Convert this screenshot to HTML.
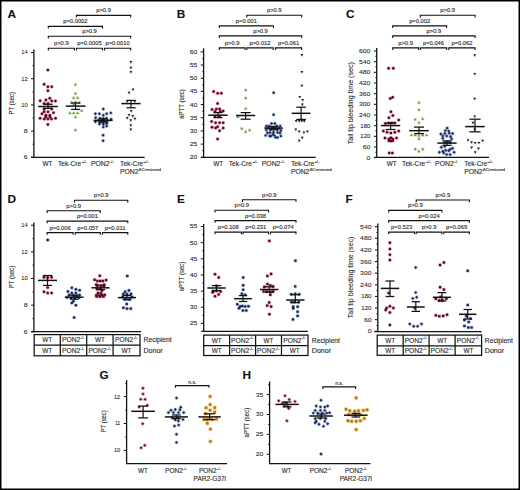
<!DOCTYPE html>
<html><head><meta charset="utf-8"><style>
html,body{margin:0;padding:0;background:#fff;}
body{width:520px;height:490px;overflow:hidden;}
svg{display:block;font-family:"Liberation Sans", sans-serif;}
text{stroke:#2a2a2a;stroke-width:0.12px;}
text.lt{stroke:#2e2e2e;stroke-width:0.1px;fill:#2e2e2e;}
</style></head><body>
<svg width="520" height="490" viewBox="0 0 520 490">
<rect x="0" y="0" width="520" height="490" fill="#fff"/>
<rect x="0" y="0" width="520" height="1.5" fill="#000"/>
<rect x="0" y="0" width="1.5" height="490" fill="#000"/>
<rect x="518.5" y="0" width="1.5" height="490" fill="#000"/>
<rect x="0" y="488.5" width="520" height="1.5" fill="#000"/>
<circle cx="47.90" cy="69.90" r="2.0" fill="rgba(215,30,80,0.38)"/>
<circle cx="44.10" cy="84.20" r="2.0" fill="rgba(215,30,80,0.38)"/>
<circle cx="47.90" cy="86.80" r="2.0" fill="rgba(215,30,80,0.38)"/>
<circle cx="51.80" cy="86.80" r="2.0" fill="rgba(215,30,80,0.38)"/>
<circle cx="47.90" cy="90.80" r="2.0" fill="rgba(215,30,80,0.38)"/>
<circle cx="49.80" cy="98.30" r="2.0" fill="rgba(215,30,80,0.38)"/>
<circle cx="45.90" cy="99.90" r="2.0" fill="rgba(215,30,80,0.38)"/>
<circle cx="40.20" cy="100.80" r="2.0" fill="rgba(215,30,80,0.38)"/>
<circle cx="51.70" cy="101.10" r="2.0" fill="rgba(215,30,80,0.38)"/>
<circle cx="55.40" cy="101.10" r="2.0" fill="rgba(215,30,80,0.38)"/>
<circle cx="44.10" cy="103.60" r="2.0" fill="rgba(215,30,80,0.38)"/>
<circle cx="48.00" cy="103.60" r="2.0" fill="rgba(215,30,80,0.38)"/>
<circle cx="51.70" cy="108.90" r="2.0" fill="rgba(215,30,80,0.38)"/>
<circle cx="44.10" cy="108.90" r="2.0" fill="rgba(215,30,80,0.38)"/>
<circle cx="44.10" cy="111.70" r="2.0" fill="rgba(215,30,80,0.38)"/>
<circle cx="48.00" cy="111.70" r="2.0" fill="rgba(215,30,80,0.38)"/>
<circle cx="53.50" cy="112.80" r="2.0" fill="rgba(215,30,80,0.38)"/>
<circle cx="42.00" cy="113.80" r="2.0" fill="rgba(215,30,80,0.38)"/>
<circle cx="45.90" cy="115.20" r="2.0" fill="rgba(215,30,80,0.38)"/>
<circle cx="49.80" cy="115.20" r="2.0" fill="rgba(215,30,80,0.38)"/>
<circle cx="45.80" cy="117.00" r="2.0" fill="rgba(215,30,80,0.38)"/>
<circle cx="50.00" cy="117.00" r="2.0" fill="rgba(215,30,80,0.38)"/>
<circle cx="40.10" cy="118.30" r="2.0" fill="rgba(215,30,80,0.38)"/>
<circle cx="44.20" cy="119.10" r="2.0" fill="rgba(215,30,80,0.38)"/>
<circle cx="47.90" cy="119.10" r="2.0" fill="rgba(215,30,80,0.38)"/>
<circle cx="51.50" cy="119.10" r="2.0" fill="rgba(215,30,80,0.38)"/>
<circle cx="55.50" cy="118.30" r="2.0" fill="rgba(215,30,80,0.38)"/>
<circle cx="47.90" cy="124.40" r="2.0" fill="rgba(215,30,80,0.38)"/>
<circle cx="75.50" cy="84.50" r="1.9" fill="rgba(140,190,80,0.38)"/>
<circle cx="75.50" cy="93.50" r="1.9" fill="rgba(140,190,80,0.38)"/>
<circle cx="73.60" cy="97.80" r="1.9" fill="rgba(140,190,80,0.38)"/>
<circle cx="77.70" cy="97.80" r="1.9" fill="rgba(140,190,80,0.38)"/>
<circle cx="71.60" cy="102.50" r="1.9" fill="rgba(140,190,80,0.38)"/>
<circle cx="75.50" cy="101.90" r="1.9" fill="rgba(140,190,80,0.38)"/>
<circle cx="79.40" cy="102.50" r="1.9" fill="rgba(140,190,80,0.38)"/>
<circle cx="73.80" cy="104.20" r="1.9" fill="rgba(140,190,80,0.38)"/>
<circle cx="81.70" cy="110.60" r="1.9" fill="rgba(140,190,80,0.38)"/>
<circle cx="69.90" cy="113.10" r="1.9" fill="rgba(140,190,80,0.38)"/>
<circle cx="73.60" cy="113.10" r="1.9" fill="rgba(140,190,80,0.38)"/>
<circle cx="77.70" cy="113.10" r="1.9" fill="rgba(140,190,80,0.38)"/>
<circle cx="75.50" cy="117.10" r="1.9" fill="rgba(140,190,80,0.38)"/>
<circle cx="75.50" cy="130.00" r="1.9" fill="rgba(140,190,80,0.38)"/>
<circle cx="103.30" cy="109.00" r="2.0" fill="rgba(50,90,175,0.32)"/>
<circle cx="95.40" cy="113.80" r="2.0" fill="rgba(50,90,175,0.32)"/>
<circle cx="99.40" cy="113.80" r="2.0" fill="rgba(50,90,175,0.32)"/>
<circle cx="106.70" cy="113.80" r="2.0" fill="rgba(50,90,175,0.32)"/>
<circle cx="110.90" cy="112.90" r="2.0" fill="rgba(50,90,175,0.32)"/>
<circle cx="103.30" cy="115.30" r="2.0" fill="rgba(50,90,175,0.32)"/>
<circle cx="95.70" cy="117.80" r="2.0" fill="rgba(50,90,175,0.32)"/>
<circle cx="100.00" cy="118.30" r="2.0" fill="rgba(50,90,175,0.32)"/>
<circle cx="103.30" cy="118.50" r="2.0" fill="rgba(50,90,175,0.32)"/>
<circle cx="106.50" cy="118.30" r="2.0" fill="rgba(50,90,175,0.32)"/>
<circle cx="98.50" cy="120.50" r="2.0" fill="rgba(50,90,175,0.32)"/>
<circle cx="101.50" cy="120.50" r="2.0" fill="rgba(50,90,175,0.32)"/>
<circle cx="104.50" cy="120.50" r="2.0" fill="rgba(50,90,175,0.32)"/>
<circle cx="107.50" cy="120.50" r="2.0" fill="rgba(50,90,175,0.32)"/>
<circle cx="95.40" cy="121.70" r="2.0" fill="rgba(50,90,175,0.32)"/>
<circle cx="111.10" cy="119.20" r="2.0" fill="rgba(50,90,175,0.32)"/>
<circle cx="100.00" cy="122.50" r="2.0" fill="rgba(50,90,175,0.32)"/>
<circle cx="103.30" cy="122.50" r="2.0" fill="rgba(50,90,175,0.32)"/>
<circle cx="106.50" cy="122.50" r="2.0" fill="rgba(50,90,175,0.32)"/>
<circle cx="99.40" cy="124.10" r="2.0" fill="rgba(50,90,175,0.32)"/>
<circle cx="103.30" cy="124.20" r="2.0" fill="rgba(50,90,175,0.32)"/>
<circle cx="106.70" cy="123.50" r="2.0" fill="rgba(50,90,175,0.32)"/>
<circle cx="103.30" cy="127.10" r="2.0" fill="rgba(50,90,175,0.32)"/>
<circle cx="106.70" cy="126.10" r="2.0" fill="rgba(50,90,175,0.32)"/>
<circle cx="103.10" cy="135.20" r="2.0" fill="rgba(50,90,175,0.32)"/>
<circle cx="103.10" cy="140.70" r="2.0" fill="rgba(50,90,175,0.32)"/>
<circle cx="130.90" cy="62.10" r="1.8" fill="rgba(120,120,120,0.15)"/>
<circle cx="130.90" cy="67.90" r="1.8" fill="rgba(120,120,120,0.15)"/>
<circle cx="130.90" cy="72.10" r="1.8" fill="rgba(120,120,120,0.15)"/>
<circle cx="133.00" cy="89.70" r="1.8" fill="rgba(120,120,120,0.15)"/>
<circle cx="129.10" cy="92.90" r="1.8" fill="rgba(120,120,120,0.15)"/>
<circle cx="127.20" cy="101.50" r="1.8" fill="rgba(120,120,120,0.15)"/>
<circle cx="134.90" cy="101.50" r="1.8" fill="rgba(120,120,120,0.15)"/>
<circle cx="131.10" cy="111.20" r="1.8" fill="rgba(120,120,120,0.15)"/>
<circle cx="129.10" cy="115.10" r="1.8" fill="rgba(120,120,120,0.15)"/>
<circle cx="132.80" cy="116.10" r="1.8" fill="rgba(120,120,120,0.15)"/>
<circle cx="127.20" cy="118.20" r="1.8" fill="rgba(120,120,120,0.15)"/>
<circle cx="134.90" cy="118.90" r="1.8" fill="rgba(120,120,120,0.15)"/>
<circle cx="130.80" cy="120.40" r="1.8" fill="rgba(120,120,120,0.15)"/>
<circle cx="130.80" cy="125.30" r="1.8" fill="rgba(120,120,120,0.15)"/>
<circle cx="130.80" cy="129.60" r="1.8" fill="rgba(120,120,120,0.15)"/>
<circle cx="213.60" cy="91.60" r="2.0" fill="rgba(215,30,80,0.38)"/>
<circle cx="217.60" cy="93.20" r="2.0" fill="rgba(215,30,80,0.38)"/>
<circle cx="221.30" cy="93.20" r="2.0" fill="rgba(215,30,80,0.38)"/>
<circle cx="217.60" cy="103.60" r="2.0" fill="rgba(215,30,80,0.38)"/>
<circle cx="212.00" cy="109.50" r="2.0" fill="rgba(215,30,80,0.38)"/>
<circle cx="216.30" cy="108.90" r="2.0" fill="rgba(215,30,80,0.38)"/>
<circle cx="219.60" cy="108.90" r="2.0" fill="rgba(215,30,80,0.38)"/>
<circle cx="223.20" cy="110.90" r="2.0" fill="rgba(215,30,80,0.38)"/>
<circle cx="215.00" cy="111.50" r="2.0" fill="rgba(215,30,80,0.38)"/>
<circle cx="220.30" cy="111.50" r="2.0" fill="rgba(215,30,80,0.38)"/>
<circle cx="215.00" cy="116.80" r="2.0" fill="rgba(215,30,80,0.38)"/>
<circle cx="219.60" cy="116.80" r="2.0" fill="rgba(215,30,80,0.38)"/>
<circle cx="211.60" cy="121.50" r="2.0" fill="rgba(215,30,80,0.38)"/>
<circle cx="215.60" cy="122.80" r="2.0" fill="rgba(215,30,80,0.38)"/>
<circle cx="219.60" cy="122.80" r="2.0" fill="rgba(215,30,80,0.38)"/>
<circle cx="223.20" cy="122.80" r="2.0" fill="rgba(215,30,80,0.38)"/>
<circle cx="212.00" cy="127.20" r="2.0" fill="rgba(215,30,80,0.38)"/>
<circle cx="215.60" cy="128.10" r="2.0" fill="rgba(215,30,80,0.38)"/>
<circle cx="217.60" cy="126.80" r="2.0" fill="rgba(215,30,80,0.38)"/>
<circle cx="219.60" cy="130.80" r="2.0" fill="rgba(215,30,80,0.38)"/>
<circle cx="223.20" cy="128.10" r="2.0" fill="rgba(215,30,80,0.38)"/>
<circle cx="217.60" cy="139.10" r="2.0" fill="rgba(215,30,80,0.38)"/>
<circle cx="245.70" cy="90.00" r="1.9" fill="rgba(140,190,80,0.38)"/>
<circle cx="245.70" cy="98.00" r="1.9" fill="rgba(140,190,80,0.38)"/>
<circle cx="245.70" cy="108.60" r="1.9" fill="rgba(140,190,80,0.38)"/>
<circle cx="238.00" cy="116.80" r="1.9" fill="rgba(140,190,80,0.38)"/>
<circle cx="241.70" cy="128.50" r="1.9" fill="rgba(140,190,80,0.38)"/>
<circle cx="245.70" cy="131.70" r="1.9" fill="rgba(140,190,80,0.38)"/>
<circle cx="249.60" cy="130.10" r="1.9" fill="rgba(140,190,80,0.38)"/>
<circle cx="273.60" cy="92.70" r="2.0" fill="rgba(50,90,175,0.32)"/>
<circle cx="273.60" cy="114.80" r="2.0" fill="rgba(50,90,175,0.32)"/>
<circle cx="271.60" cy="123.50" r="2.0" fill="rgba(50,90,175,0.32)"/>
<circle cx="274.90" cy="123.50" r="2.0" fill="rgba(50,90,175,0.32)"/>
<circle cx="266.30" cy="126.10" r="2.0" fill="rgba(50,90,175,0.32)"/>
<circle cx="269.00" cy="126.10" r="2.0" fill="rgba(50,90,175,0.32)"/>
<circle cx="276.90" cy="126.10" r="2.0" fill="rgba(50,90,175,0.32)"/>
<circle cx="280.20" cy="126.10" r="2.0" fill="rgba(50,90,175,0.32)"/>
<circle cx="266.30" cy="130.10" r="2.0" fill="rgba(50,90,175,0.32)"/>
<circle cx="280.90" cy="130.50" r="2.0" fill="rgba(50,90,175,0.32)"/>
<circle cx="270.50" cy="129.50" r="2.0" fill="rgba(50,90,175,0.32)"/>
<circle cx="277.50" cy="129.50" r="2.0" fill="rgba(50,90,175,0.32)"/>
<circle cx="265.60" cy="135.40" r="2.0" fill="rgba(50,90,175,0.32)"/>
<circle cx="269.60" cy="136.10" r="2.0" fill="rgba(50,90,175,0.32)"/>
<circle cx="272.90" cy="134.10" r="2.0" fill="rgba(50,90,175,0.32)"/>
<circle cx="274.30" cy="135.40" r="2.0" fill="rgba(50,90,175,0.32)"/>
<circle cx="277.60" cy="137.40" r="2.0" fill="rgba(50,90,175,0.32)"/>
<circle cx="280.90" cy="136.10" r="2.0" fill="rgba(50,90,175,0.32)"/>
<circle cx="271.00" cy="136.10" r="2.0" fill="rgba(50,90,175,0.32)"/>
<circle cx="275.60" cy="137.40" r="2.0" fill="rgba(50,90,175,0.32)"/>
<circle cx="268.00" cy="128.10" r="2.0" fill="rgba(50,90,175,0.32)"/>
<circle cx="272.00" cy="128.10" r="2.0" fill="rgba(50,90,175,0.32)"/>
<circle cx="275.50" cy="128.10" r="2.0" fill="rgba(50,90,175,0.32)"/>
<circle cx="279.00" cy="128.10" r="2.0" fill="rgba(50,90,175,0.32)"/>
<circle cx="270.00" cy="132.50" r="2.0" fill="rgba(50,90,175,0.32)"/>
<circle cx="273.60" cy="132.00" r="2.0" fill="rgba(50,90,175,0.32)"/>
<circle cx="277.50" cy="132.50" r="2.0" fill="rgba(50,90,175,0.32)"/>
<circle cx="267.50" cy="133.00" r="2.0" fill="rgba(50,90,175,0.32)"/>
<circle cx="280.00" cy="133.00" r="2.0" fill="rgba(50,90,175,0.32)"/>
<circle cx="301.90" cy="55.10" r="1.8" fill="rgba(120,120,120,0.15)"/>
<circle cx="301.90" cy="72.10" r="1.8" fill="rgba(120,120,120,0.15)"/>
<circle cx="301.90" cy="85.80" r="1.8" fill="rgba(120,120,120,0.15)"/>
<circle cx="299.80" cy="97.00" r="1.8" fill="rgba(120,120,120,0.15)"/>
<circle cx="302.70" cy="100.00" r="1.8" fill="rgba(120,120,120,0.15)"/>
<circle cx="302.30" cy="104.70" r="1.8" fill="rgba(120,120,120,0.15)"/>
<circle cx="296.20" cy="121.10" r="1.8" fill="rgba(120,120,120,0.15)"/>
<circle cx="299.20" cy="121.10" r="1.8" fill="rgba(120,120,120,0.15)"/>
<circle cx="301.90" cy="121.10" r="1.8" fill="rgba(120,120,120,0.15)"/>
<circle cx="304.30" cy="121.10" r="1.8" fill="rgba(120,120,120,0.15)"/>
<circle cx="295.80" cy="129.60" r="1.8" fill="rgba(120,120,120,0.15)"/>
<circle cx="299.20" cy="131.70" r="1.8" fill="rgba(120,120,120,0.15)"/>
<circle cx="303.90" cy="132.70" r="1.8" fill="rgba(120,120,120,0.15)"/>
<circle cx="307.40" cy="131.70" r="1.8" fill="rgba(120,120,120,0.15)"/>
<circle cx="302.30" cy="137.80" r="1.8" fill="rgba(120,120,120,0.15)"/>
<circle cx="299.20" cy="140.90" r="1.8" fill="rgba(120,120,120,0.15)"/>
<circle cx="388.60" cy="68.20" r="2.0" fill="rgba(215,30,80,0.38)"/>
<circle cx="393.30" cy="68.20" r="2.0" fill="rgba(215,30,80,0.38)"/>
<circle cx="390.20" cy="98.50" r="2.0" fill="rgba(215,30,80,0.38)"/>
<circle cx="392.70" cy="97.30" r="2.0" fill="rgba(215,30,80,0.38)"/>
<circle cx="390.90" cy="111.80" r="2.0" fill="rgba(215,30,80,0.38)"/>
<circle cx="392.80" cy="115.60" r="2.0" fill="rgba(215,30,80,0.38)"/>
<circle cx="388.90" cy="117.70" r="2.0" fill="rgba(215,30,80,0.38)"/>
<circle cx="398.70" cy="120.10" r="2.0" fill="rgba(215,30,80,0.38)"/>
<circle cx="385.30" cy="123.60" r="2.0" fill="rgba(215,30,80,0.38)"/>
<circle cx="388.90" cy="123.00" r="2.0" fill="rgba(215,30,80,0.38)"/>
<circle cx="391.80" cy="123.00" r="2.0" fill="rgba(215,30,80,0.38)"/>
<circle cx="394.80" cy="123.00" r="2.0" fill="rgba(215,30,80,0.38)"/>
<circle cx="383.30" cy="131.00" r="2.0" fill="rgba(215,30,80,0.38)"/>
<circle cx="387.10" cy="132.20" r="2.0" fill="rgba(215,30,80,0.38)"/>
<circle cx="390.90" cy="133.10" r="2.0" fill="rgba(215,30,80,0.38)"/>
<circle cx="394.80" cy="132.20" r="2.0" fill="rgba(215,30,80,0.38)"/>
<circle cx="398.70" cy="131.00" r="2.0" fill="rgba(215,30,80,0.38)"/>
<circle cx="385.00" cy="138.10" r="2.0" fill="rgba(215,30,80,0.38)"/>
<circle cx="388.90" cy="139.00" r="2.0" fill="rgba(215,30,80,0.38)"/>
<circle cx="390.90" cy="137.80" r="2.0" fill="rgba(215,30,80,0.38)"/>
<circle cx="392.80" cy="139.00" r="2.0" fill="rgba(215,30,80,0.38)"/>
<circle cx="396.50" cy="138.10" r="2.0" fill="rgba(215,30,80,0.38)"/>
<circle cx="388.90" cy="140.80" r="2.0" fill="rgba(215,30,80,0.38)"/>
<circle cx="392.80" cy="140.80" r="2.0" fill="rgba(215,30,80,0.38)"/>
<circle cx="390.90" cy="141.00" r="2.0" fill="rgba(215,30,80,0.38)"/>
<circle cx="389.20" cy="153.00" r="2.0" fill="rgba(215,30,80,0.38)"/>
<circle cx="392.40" cy="153.00" r="2.0" fill="rgba(215,30,80,0.38)"/>
<circle cx="418.90" cy="102.50" r="1.9" fill="rgba(140,190,80,0.38)"/>
<circle cx="418.90" cy="109.80" r="1.9" fill="rgba(140,190,80,0.38)"/>
<circle cx="415.30" cy="119.40" r="1.9" fill="rgba(140,190,80,0.38)"/>
<circle cx="422.70" cy="118.80" r="1.9" fill="rgba(140,190,80,0.38)"/>
<circle cx="418.90" cy="122.60" r="1.9" fill="rgba(140,190,80,0.38)"/>
<circle cx="411.40" cy="135.10" r="1.9" fill="rgba(140,190,80,0.38)"/>
<circle cx="415.30" cy="135.10" r="1.9" fill="rgba(140,190,80,0.38)"/>
<circle cx="418.90" cy="135.50" r="1.9" fill="rgba(140,190,80,0.38)"/>
<circle cx="422.70" cy="135.10" r="1.9" fill="rgba(140,190,80,0.38)"/>
<circle cx="426.60" cy="135.10" r="1.9" fill="rgba(140,190,80,0.38)"/>
<circle cx="418.90" cy="138.70" r="1.9" fill="rgba(140,190,80,0.38)"/>
<circle cx="415.30" cy="149.00" r="1.9" fill="rgba(140,190,80,0.38)"/>
<circle cx="418.90" cy="151.30" r="1.9" fill="rgba(140,190,80,0.38)"/>
<circle cx="422.70" cy="149.00" r="1.9" fill="rgba(140,190,80,0.38)"/>
<circle cx="447.20" cy="128.10" r="2.0" fill="rgba(50,90,175,0.32)"/>
<circle cx="445.30" cy="130.60" r="2.0" fill="rgba(50,90,175,0.32)"/>
<circle cx="448.70" cy="131.10" r="2.0" fill="rgba(50,90,175,0.32)"/>
<circle cx="440.80" cy="134.00" r="2.0" fill="rgba(50,90,175,0.32)"/>
<circle cx="444.80" cy="133.50" r="2.0" fill="rgba(50,90,175,0.32)"/>
<circle cx="449.20" cy="133.30" r="2.0" fill="rgba(50,90,175,0.32)"/>
<circle cx="452.60" cy="133.50" r="2.0" fill="rgba(50,90,175,0.32)"/>
<circle cx="442.80" cy="136.00" r="2.0" fill="rgba(50,90,175,0.32)"/>
<circle cx="446.70" cy="136.00" r="2.0" fill="rgba(50,90,175,0.32)"/>
<circle cx="450.60" cy="136.50" r="2.0" fill="rgba(50,90,175,0.32)"/>
<circle cx="442.80" cy="138.40" r="2.0" fill="rgba(50,90,175,0.32)"/>
<circle cx="451.60" cy="138.90" r="2.0" fill="rgba(50,90,175,0.32)"/>
<circle cx="444.80" cy="142.40" r="2.0" fill="rgba(50,90,175,0.32)"/>
<circle cx="447.70" cy="142.00" r="2.0" fill="rgba(50,90,175,0.32)"/>
<circle cx="450.20" cy="142.40" r="2.0" fill="rgba(50,90,175,0.32)"/>
<circle cx="441.30" cy="147.30" r="2.0" fill="rgba(50,90,175,0.32)"/>
<circle cx="444.80" cy="146.30" r="2.0" fill="rgba(50,90,175,0.32)"/>
<circle cx="452.60" cy="148.20" r="2.0" fill="rgba(50,90,175,0.32)"/>
<circle cx="439.40" cy="152.20" r="2.0" fill="rgba(50,90,175,0.32)"/>
<circle cx="442.80" cy="151.20" r="2.0" fill="rgba(50,90,175,0.32)"/>
<circle cx="445.70" cy="150.20" r="2.0" fill="rgba(50,90,175,0.32)"/>
<circle cx="448.70" cy="150.70" r="2.0" fill="rgba(50,90,175,0.32)"/>
<circle cx="450.20" cy="149.20" r="2.0" fill="rgba(50,90,175,0.32)"/>
<circle cx="454.10" cy="152.20" r="2.0" fill="rgba(50,90,175,0.32)"/>
<circle cx="443.80" cy="153.10" r="2.0" fill="rgba(50,90,175,0.32)"/>
<circle cx="446.70" cy="154.60" r="2.0" fill="rgba(50,90,175,0.32)"/>
<circle cx="450.20" cy="154.60" r="2.0" fill="rgba(50,90,175,0.32)"/>
<circle cx="474.70" cy="55.40" r="1.8" fill="rgba(120,120,120,0.15)"/>
<circle cx="474.70" cy="74.00" r="1.8" fill="rgba(120,120,120,0.15)"/>
<circle cx="474.70" cy="98.80" r="1.8" fill="rgba(120,120,120,0.15)"/>
<circle cx="474.70" cy="116.50" r="1.8" fill="rgba(120,120,120,0.15)"/>
<circle cx="473.00" cy="122.80" r="1.8" fill="rgba(120,120,120,0.15)"/>
<circle cx="474.70" cy="129.70" r="1.8" fill="rgba(120,120,120,0.15)"/>
<circle cx="468.00" cy="140.30" r="1.8" fill="rgba(120,120,120,0.15)"/>
<circle cx="471.60" cy="142.40" r="1.8" fill="rgba(120,120,120,0.15)"/>
<circle cx="475.20" cy="143.00" r="1.8" fill="rgba(120,120,120,0.15)"/>
<circle cx="478.90" cy="143.00" r="1.8" fill="rgba(120,120,120,0.15)"/>
<circle cx="482.70" cy="140.90" r="1.8" fill="rgba(120,120,120,0.15)"/>
<circle cx="471.60" cy="147.60" r="1.8" fill="rgba(120,120,120,0.15)"/>
<circle cx="478.50" cy="148.70" r="1.8" fill="rgba(120,120,120,0.15)"/>
<circle cx="475.20" cy="152.30" r="1.8" fill="rgba(120,120,120,0.15)"/>
<circle cx="47.70" cy="240.00" r="2.0" fill="rgba(215,30,80,0.38)"/>
<circle cx="44.00" cy="277.20" r="2.0" fill="rgba(215,30,80,0.38)"/>
<circle cx="51.60" cy="277.20" r="2.0" fill="rgba(215,30,80,0.38)"/>
<circle cx="47.70" cy="277.40" r="2.0" fill="rgba(215,30,80,0.38)"/>
<circle cx="47.70" cy="287.40" r="2.0" fill="rgba(215,30,80,0.38)"/>
<circle cx="44.00" cy="291.80" r="2.0" fill="rgba(215,30,80,0.38)"/>
<circle cx="47.70" cy="293.10" r="2.0" fill="rgba(215,30,80,0.38)"/>
<circle cx="51.60" cy="293.10" r="2.0" fill="rgba(215,30,80,0.38)"/>
<circle cx="71.80" cy="287.80" r="2.0" fill="rgba(50,90,175,0.32)"/>
<circle cx="75.90" cy="289.20" r="2.0" fill="rgba(50,90,175,0.32)"/>
<circle cx="79.60" cy="290.20" r="2.0" fill="rgba(50,90,175,0.32)"/>
<circle cx="67.90" cy="291.40" r="2.0" fill="rgba(50,90,175,0.32)"/>
<circle cx="71.80" cy="293.10" r="2.0" fill="rgba(50,90,175,0.32)"/>
<circle cx="75.90" cy="293.10" r="2.0" fill="rgba(50,90,175,0.32)"/>
<circle cx="69.00" cy="295.10" r="2.0" fill="rgba(50,90,175,0.32)"/>
<circle cx="79.60" cy="295.10" r="2.0" fill="rgba(50,90,175,0.32)"/>
<circle cx="73.50" cy="295.50" r="2.0" fill="rgba(50,90,175,0.32)"/>
<circle cx="77.00" cy="296.00" r="2.0" fill="rgba(50,90,175,0.32)"/>
<circle cx="67.00" cy="297.50" r="2.0" fill="rgba(50,90,175,0.32)"/>
<circle cx="71.00" cy="298.00" r="2.0" fill="rgba(50,90,175,0.32)"/>
<circle cx="75.00" cy="298.00" r="2.0" fill="rgba(50,90,175,0.32)"/>
<circle cx="79.00" cy="297.80" r="2.0" fill="rgba(50,90,175,0.32)"/>
<circle cx="73.40" cy="301.30" r="2.0" fill="rgba(50,90,175,0.32)"/>
<circle cx="71.80" cy="302.90" r="2.0" fill="rgba(50,90,175,0.32)"/>
<circle cx="75.90" cy="305.30" r="2.0" fill="rgba(50,90,175,0.32)"/>
<circle cx="74.10" cy="317.40" r="2.0" fill="rgba(50,90,175,0.32)"/>
<circle cx="99.80" cy="275.80" r="2.0" fill="rgba(215,30,80,0.38)"/>
<circle cx="94.60" cy="279.80" r="2.0" fill="rgba(215,30,80,0.38)"/>
<circle cx="97.40" cy="281.00" r="2.0" fill="rgba(215,30,80,0.38)"/>
<circle cx="100.10" cy="281.00" r="2.0" fill="rgba(215,30,80,0.38)"/>
<circle cx="102.90" cy="281.00" r="2.0" fill="rgba(215,30,80,0.38)"/>
<circle cx="106.10" cy="280.10" r="2.0" fill="rgba(215,30,80,0.38)"/>
<circle cx="96.20" cy="284.60" r="2.0" fill="rgba(215,30,80,0.38)"/>
<circle cx="104.20" cy="284.80" r="2.0" fill="rgba(215,30,80,0.38)"/>
<circle cx="97.40" cy="286.30" r="2.0" fill="rgba(215,30,80,0.38)"/>
<circle cx="101.00" cy="286.60" r="2.0" fill="rgba(215,30,80,0.38)"/>
<circle cx="103.80" cy="286.30" r="2.0" fill="rgba(215,30,80,0.38)"/>
<circle cx="97.10" cy="288.70" r="2.0" fill="rgba(215,30,80,0.38)"/>
<circle cx="100.40" cy="289.00" r="2.0" fill="rgba(215,30,80,0.38)"/>
<circle cx="102.00" cy="290.60" r="2.0" fill="rgba(215,30,80,0.38)"/>
<circle cx="98.00" cy="293.00" r="2.0" fill="rgba(215,30,80,0.38)"/>
<circle cx="101.00" cy="293.30" r="2.0" fill="rgba(215,30,80,0.38)"/>
<circle cx="96.40" cy="295.20" r="2.0" fill="rgba(215,30,80,0.38)"/>
<circle cx="99.20" cy="295.50" r="2.0" fill="rgba(215,30,80,0.38)"/>
<circle cx="102.00" cy="295.20" r="2.0" fill="rgba(215,30,80,0.38)"/>
<circle cx="104.70" cy="294.80" r="2.0" fill="rgba(215,30,80,0.38)"/>
<circle cx="96.70" cy="296.60" r="2.0" fill="rgba(215,30,80,0.38)"/>
<circle cx="100.10" cy="296.60" r="2.0" fill="rgba(215,30,80,0.38)"/>
<circle cx="103.50" cy="296.60" r="2.0" fill="rgba(215,30,80,0.38)"/>
<circle cx="127.30" cy="276.00" r="2.0" fill="rgba(50,90,175,0.32)"/>
<circle cx="128.90" cy="290.40" r="2.0" fill="rgba(50,90,175,0.32)"/>
<circle cx="125.20" cy="291.70" r="2.0" fill="rgba(50,90,175,0.32)"/>
<circle cx="123.40" cy="293.90" r="2.0" fill="rgba(50,90,175,0.32)"/>
<circle cx="131.00" cy="293.90" r="2.0" fill="rgba(50,90,175,0.32)"/>
<circle cx="127.00" cy="294.20" r="2.0" fill="rgba(50,90,175,0.32)"/>
<circle cx="122.70" cy="297.00" r="2.0" fill="rgba(50,90,175,0.32)"/>
<circle cx="132.00" cy="297.00" r="2.0" fill="rgba(50,90,175,0.32)"/>
<circle cx="125.20" cy="299.40" r="2.0" fill="rgba(50,90,175,0.32)"/>
<circle cx="129.50" cy="299.40" r="2.0" fill="rgba(50,90,175,0.32)"/>
<circle cx="126.70" cy="304.00" r="2.0" fill="rgba(50,90,175,0.32)"/>
<circle cx="123.40" cy="307.70" r="2.0" fill="rgba(50,90,175,0.32)"/>
<circle cx="127.00" cy="308.60" r="2.0" fill="rgba(50,90,175,0.32)"/>
<circle cx="130.70" cy="308.60" r="2.0" fill="rgba(50,90,175,0.32)"/>
<circle cx="215.00" cy="274.20" r="2.0" fill="rgba(215,30,80,0.38)"/>
<circle cx="218.70" cy="277.60" r="2.0" fill="rgba(215,30,80,0.38)"/>
<circle cx="213.20" cy="291.40" r="2.0" fill="rgba(215,30,80,0.38)"/>
<circle cx="216.50" cy="291.10" r="2.0" fill="rgba(215,30,80,0.38)"/>
<circle cx="220.50" cy="291.40" r="2.0" fill="rgba(215,30,80,0.38)"/>
<circle cx="212.60" cy="292.30" r="2.0" fill="rgba(215,30,80,0.38)"/>
<circle cx="218.70" cy="294.50" r="2.0" fill="rgba(215,30,80,0.38)"/>
<circle cx="215.00" cy="296.30" r="2.0" fill="rgba(215,30,80,0.38)"/>
<circle cx="216.50" cy="285.80" r="2.0" fill="rgba(215,30,80,0.38)"/>
<circle cx="243.20" cy="277.60" r="2.0" fill="rgba(50,90,175,0.32)"/>
<circle cx="243.20" cy="285.20" r="2.0" fill="rgba(50,90,175,0.32)"/>
<circle cx="243.20" cy="289.70" r="2.0" fill="rgba(50,90,175,0.32)"/>
<circle cx="241.80" cy="293.70" r="2.0" fill="rgba(50,90,175,0.32)"/>
<circle cx="245.10" cy="294.80" r="2.0" fill="rgba(50,90,175,0.32)"/>
<circle cx="237.30" cy="304.30" r="2.0" fill="rgba(50,90,175,0.32)"/>
<circle cx="240.10" cy="306.60" r="2.0" fill="rgba(50,90,175,0.32)"/>
<circle cx="242.30" cy="306.00" r="2.0" fill="rgba(50,90,175,0.32)"/>
<circle cx="245.10" cy="306.60" r="2.0" fill="rgba(50,90,175,0.32)"/>
<circle cx="248.50" cy="306.30" r="2.0" fill="rgba(50,90,175,0.32)"/>
<circle cx="239.00" cy="308.30" r="2.0" fill="rgba(50,90,175,0.32)"/>
<circle cx="242.90" cy="310.50" r="2.0" fill="rgba(50,90,175,0.32)"/>
<circle cx="246.30" cy="310.50" r="2.0" fill="rgba(50,90,175,0.32)"/>
<circle cx="269.30" cy="240.90" r="2.0" fill="rgba(215,30,80,0.38)"/>
<circle cx="267.40" cy="276.00" r="2.0" fill="rgba(215,30,80,0.38)"/>
<circle cx="271.10" cy="273.90" r="2.0" fill="rgba(215,30,80,0.38)"/>
<circle cx="267.40" cy="284.10" r="2.0" fill="rgba(215,30,80,0.38)"/>
<circle cx="270.30" cy="285.40" r="2.0" fill="rgba(215,30,80,0.38)"/>
<circle cx="264.30" cy="286.90" r="2.0" fill="rgba(215,30,80,0.38)"/>
<circle cx="273.10" cy="286.40" r="2.0" fill="rgba(215,30,80,0.38)"/>
<circle cx="263.60" cy="291.50" r="2.0" fill="rgba(215,30,80,0.38)"/>
<circle cx="266.70" cy="291.50" r="2.0" fill="rgba(215,30,80,0.38)"/>
<circle cx="270.30" cy="292.00" r="2.0" fill="rgba(215,30,80,0.38)"/>
<circle cx="273.10" cy="291.50" r="2.0" fill="rgba(215,30,80,0.38)"/>
<circle cx="270.30" cy="294.80" r="2.0" fill="rgba(215,30,80,0.38)"/>
<circle cx="269.20" cy="302.50" r="2.0" fill="rgba(215,30,80,0.38)"/>
<circle cx="267.20" cy="305.60" r="2.0" fill="rgba(215,30,80,0.38)"/>
<circle cx="271.10" cy="306.60" r="2.0" fill="rgba(215,30,80,0.38)"/>
<circle cx="269.40" cy="314.20" r="2.0" fill="rgba(215,30,80,0.38)"/>
<circle cx="295.40" cy="260.70" r="2.0" fill="rgba(50,90,175,0.32)"/>
<circle cx="295.20" cy="286.40" r="2.0" fill="rgba(50,90,175,0.32)"/>
<circle cx="291.20" cy="294.30" r="2.0" fill="rgba(50,90,175,0.32)"/>
<circle cx="295.20" cy="293.80" r="2.0" fill="rgba(50,90,175,0.32)"/>
<circle cx="299.20" cy="294.30" r="2.0" fill="rgba(50,90,175,0.32)"/>
<circle cx="291.40" cy="302.10" r="2.0" fill="rgba(50,90,175,0.32)"/>
<circle cx="294.60" cy="302.10" r="2.0" fill="rgba(50,90,175,0.32)"/>
<circle cx="298.70" cy="302.10" r="2.0" fill="rgba(50,90,175,0.32)"/>
<circle cx="293.20" cy="306.70" r="2.0" fill="rgba(50,90,175,0.32)"/>
<circle cx="297.60" cy="306.70" r="2.0" fill="rgba(50,90,175,0.32)"/>
<circle cx="293.20" cy="308.50" r="2.0" fill="rgba(50,90,175,0.32)"/>
<circle cx="297.60" cy="311.70" r="2.0" fill="rgba(50,90,175,0.32)"/>
<circle cx="297.60" cy="315.90" r="2.0" fill="rgba(50,90,175,0.32)"/>
<circle cx="293.00" cy="319.40" r="2.0" fill="rgba(50,90,175,0.32)"/>
<circle cx="389.90" cy="242.70" r="2.0" fill="rgba(215,30,80,0.38)"/>
<circle cx="389.90" cy="248.90" r="2.0" fill="rgba(215,30,80,0.38)"/>
<circle cx="389.90" cy="254.70" r="2.0" fill="rgba(215,30,80,0.38)"/>
<circle cx="389.90" cy="260.10" r="2.0" fill="rgba(215,30,80,0.38)"/>
<circle cx="388.60" cy="293.00" r="2.0" fill="rgba(215,30,80,0.38)"/>
<circle cx="386.60" cy="308.10" r="2.0" fill="rgba(215,30,80,0.38)"/>
<circle cx="389.90" cy="306.20" r="2.0" fill="rgba(215,30,80,0.38)"/>
<circle cx="393.40" cy="308.10" r="2.0" fill="rgba(215,30,80,0.38)"/>
<circle cx="385.70" cy="310.00" r="2.0" fill="rgba(215,30,80,0.38)"/>
<circle cx="389.90" cy="312.40" r="2.0" fill="rgba(215,30,80,0.38)"/>
<circle cx="389.90" cy="325.00" r="2.0" fill="rgba(215,30,80,0.38)"/>
<circle cx="415.70" cy="267.50" r="2.0" fill="rgba(50,90,175,0.32)"/>
<circle cx="415.70" cy="292.60" r="2.0" fill="rgba(50,90,175,0.32)"/>
<circle cx="412.80" cy="298.40" r="2.0" fill="rgba(50,90,175,0.32)"/>
<circle cx="416.60" cy="297.30" r="2.0" fill="rgba(50,90,175,0.32)"/>
<circle cx="414.70" cy="308.10" r="2.0" fill="rgba(50,90,175,0.32)"/>
<circle cx="409.80" cy="324.00" r="2.0" fill="rgba(50,90,175,0.32)"/>
<circle cx="413.70" cy="326.30" r="2.0" fill="rgba(50,90,175,0.32)"/>
<circle cx="417.60" cy="326.30" r="2.0" fill="rgba(50,90,175,0.32)"/>
<circle cx="421.50" cy="324.00" r="2.0" fill="rgba(50,90,175,0.32)"/>
<circle cx="440.10" cy="265.00" r="2.0" fill="rgba(215,30,80,0.38)"/>
<circle cx="443.90" cy="262.50" r="2.0" fill="rgba(215,30,80,0.38)"/>
<circle cx="440.10" cy="287.20" r="2.0" fill="rgba(215,30,80,0.38)"/>
<circle cx="443.90" cy="289.50" r="2.0" fill="rgba(215,30,80,0.38)"/>
<circle cx="435.80" cy="298.80" r="2.0" fill="rgba(215,30,80,0.38)"/>
<circle cx="439.30" cy="300.40" r="2.0" fill="rgba(215,30,80,0.38)"/>
<circle cx="442.60" cy="300.40" r="2.0" fill="rgba(215,30,80,0.38)"/>
<circle cx="446.40" cy="298.80" r="2.0" fill="rgba(215,30,80,0.38)"/>
<circle cx="440.60" cy="296.90" r="2.0" fill="rgba(215,30,80,0.38)"/>
<circle cx="435.80" cy="315.30" r="2.0" fill="rgba(215,30,80,0.38)"/>
<circle cx="439.30" cy="316.20" r="2.0" fill="rgba(215,30,80,0.38)"/>
<circle cx="443.20" cy="315.90" r="2.0" fill="rgba(215,30,80,0.38)"/>
<circle cx="447.00" cy="314.70" r="2.0" fill="rgba(215,30,80,0.38)"/>
<circle cx="467.70" cy="270.80" r="2.0" fill="rgba(50,90,175,0.32)"/>
<circle cx="467.70" cy="305.00" r="2.0" fill="rgba(50,90,175,0.32)"/>
<circle cx="466.40" cy="316.20" r="2.0" fill="rgba(50,90,175,0.32)"/>
<circle cx="470.60" cy="318.60" r="2.0" fill="rgba(50,90,175,0.32)"/>
<circle cx="464.40" cy="320.10" r="2.0" fill="rgba(50,90,175,0.32)"/>
<circle cx="468.70" cy="322.00" r="2.0" fill="rgba(50,90,175,0.32)"/>
<circle cx="464.40" cy="325.90" r="2.0" fill="rgba(50,90,175,0.32)"/>
<circle cx="468.30" cy="327.50" r="2.0" fill="rgba(50,90,175,0.32)"/>
<circle cx="471.60" cy="327.50" r="2.0" fill="rgba(50,90,175,0.32)"/>
<circle cx="143.00" cy="388.20" r="2.0" fill="rgba(210,40,90,0.36)"/>
<circle cx="143.00" cy="393.90" r="2.0" fill="rgba(210,40,90,0.36)"/>
<circle cx="140.70" cy="399.30" r="2.0" fill="rgba(210,40,90,0.36)"/>
<circle cx="145.10" cy="399.30" r="2.0" fill="rgba(210,40,90,0.36)"/>
<circle cx="139.10" cy="406.90" r="2.0" fill="rgba(210,40,90,0.36)"/>
<circle cx="147.30" cy="405.30" r="2.0" fill="rgba(210,40,90,0.36)"/>
<circle cx="142.70" cy="423.80" r="2.0" fill="rgba(210,40,90,0.36)"/>
<circle cx="141.10" cy="447.80" r="2.0" fill="rgba(210,40,90,0.36)"/>
<circle cx="144.80" cy="445.30" r="2.0" fill="rgba(210,40,90,0.36)"/>
<circle cx="176.50" cy="398.00" r="2.0" fill="rgba(50,90,175,0.32)"/>
<circle cx="180.70" cy="407.20" r="2.0" fill="rgba(50,90,175,0.32)"/>
<circle cx="171.00" cy="410.30" r="2.0" fill="rgba(50,90,175,0.32)"/>
<circle cx="175.30" cy="409.50" r="2.0" fill="rgba(50,90,175,0.32)"/>
<circle cx="179.90" cy="409.80" r="2.0" fill="rgba(50,90,175,0.32)"/>
<circle cx="168.40" cy="412.60" r="2.0" fill="rgba(50,90,175,0.32)"/>
<circle cx="173.50" cy="412.60" r="2.0" fill="rgba(50,90,175,0.32)"/>
<circle cx="178.40" cy="412.60" r="2.0" fill="rgba(50,90,175,0.32)"/>
<circle cx="183.70" cy="412.60" r="2.0" fill="rgba(50,90,175,0.32)"/>
<circle cx="172.30" cy="417.90" r="2.0" fill="rgba(50,90,175,0.32)"/>
<circle cx="178.40" cy="417.90" r="2.0" fill="rgba(50,90,175,0.32)"/>
<circle cx="183.00" cy="419.50" r="2.0" fill="rgba(50,90,175,0.32)"/>
<circle cx="178.40" cy="421.00" r="2.0" fill="rgba(50,90,175,0.32)"/>
<circle cx="175.30" cy="419.90" r="2.0" fill="rgba(50,90,175,0.32)"/>
<circle cx="174.50" cy="426.00" r="2.0" fill="rgba(50,90,175,0.32)"/>
<circle cx="178.70" cy="425.10" r="2.0" fill="rgba(50,90,175,0.32)"/>
<circle cx="176.50" cy="434.30" r="2.0" fill="rgba(50,90,175,0.32)"/>
<circle cx="176.50" cy="442.40" r="2.0" fill="rgba(50,90,175,0.32)"/>
<circle cx="210.10" cy="396.50" r="2.2" fill="rgba(240,170,30,0.55)"/>
<circle cx="210.10" cy="404.60" r="2.2" fill="rgba(240,170,30,0.55)"/>
<circle cx="206.10" cy="407.70" r="2.2" fill="rgba(240,170,30,0.55)"/>
<circle cx="214.70" cy="407.70" r="2.2" fill="rgba(240,170,30,0.55)"/>
<circle cx="210.10" cy="410.30" r="2.2" fill="rgba(240,170,30,0.55)"/>
<circle cx="205.50" cy="413.50" r="2.2" fill="rgba(240,170,30,0.55)"/>
<circle cx="214.70" cy="412.00" r="2.2" fill="rgba(240,170,30,0.55)"/>
<circle cx="203.90" cy="419.50" r="2.2" fill="rgba(240,170,30,0.55)"/>
<circle cx="207.30" cy="419.50" r="2.2" fill="rgba(240,170,30,0.55)"/>
<circle cx="211.90" cy="419.50" r="2.2" fill="rgba(240,170,30,0.55)"/>
<circle cx="216.50" cy="419.00" r="2.2" fill="rgba(240,170,30,0.55)"/>
<circle cx="207.30" cy="423.30" r="2.2" fill="rgba(240,170,30,0.55)"/>
<circle cx="210.40" cy="429.10" r="2.2" fill="rgba(240,170,30,0.55)"/>
<circle cx="210.40" cy="441.40" r="2.2" fill="rgba(240,170,30,0.55)"/>
<circle cx="285.00" cy="395.80" r="2.0" fill="rgba(210,40,90,0.36)"/>
<circle cx="278.70" cy="400.80" r="2.0" fill="rgba(210,40,90,0.36)"/>
<circle cx="289.20" cy="399.60" r="2.0" fill="rgba(210,40,90,0.36)"/>
<circle cx="295.00" cy="401.50" r="2.0" fill="rgba(210,40,90,0.36)"/>
<circle cx="282.50" cy="403.10" r="2.0" fill="rgba(210,40,90,0.36)"/>
<circle cx="285.40" cy="402.70" r="2.0" fill="rgba(210,40,90,0.36)"/>
<circle cx="284.40" cy="406.00" r="2.0" fill="rgba(210,40,90,0.36)"/>
<circle cx="288.30" cy="406.90" r="2.0" fill="rgba(210,40,90,0.36)"/>
<circle cx="288.80" cy="408.50" r="2.0" fill="rgba(210,40,90,0.36)"/>
<circle cx="286.90" cy="420.80" r="2.0" fill="rgba(210,40,90,0.36)"/>
<circle cx="321.00" cy="400.20" r="2.0" fill="rgba(50,90,175,0.32)"/>
<circle cx="316.20" cy="406.00" r="2.0" fill="rgba(50,90,175,0.32)"/>
<circle cx="320.40" cy="406.90" r="2.0" fill="rgba(50,90,175,0.32)"/>
<circle cx="324.80" cy="406.90" r="2.0" fill="rgba(50,90,175,0.32)"/>
<circle cx="327.70" cy="406.00" r="2.0" fill="rgba(50,90,175,0.32)"/>
<circle cx="315.20" cy="410.40" r="2.0" fill="rgba(50,90,175,0.32)"/>
<circle cx="320.40" cy="410.40" r="2.0" fill="rgba(50,90,175,0.32)"/>
<circle cx="324.80" cy="410.40" r="2.0" fill="rgba(50,90,175,0.32)"/>
<circle cx="313.30" cy="413.10" r="2.0" fill="rgba(50,90,175,0.32)"/>
<circle cx="317.70" cy="413.10" r="2.0" fill="rgba(50,90,175,0.32)"/>
<circle cx="322.30" cy="413.10" r="2.0" fill="rgba(50,90,175,0.32)"/>
<circle cx="326.70" cy="413.10" r="2.0" fill="rgba(50,90,175,0.32)"/>
<circle cx="329.60" cy="412.70" r="2.0" fill="rgba(50,90,175,0.32)"/>
<circle cx="315.20" cy="418.50" r="2.0" fill="rgba(50,90,175,0.32)"/>
<circle cx="320.40" cy="418.50" r="2.0" fill="rgba(50,90,175,0.32)"/>
<circle cx="325.80" cy="418.50" r="2.0" fill="rgba(50,90,175,0.32)"/>
<circle cx="316.20" cy="421.30" r="2.0" fill="rgba(50,90,175,0.32)"/>
<circle cx="324.80" cy="421.30" r="2.0" fill="rgba(50,90,175,0.32)"/>
<circle cx="315.20" cy="422.70" r="2.0" fill="rgba(50,90,175,0.32)"/>
<circle cx="319.00" cy="424.20" r="2.0" fill="rgba(50,90,175,0.32)"/>
<circle cx="327.70" cy="423.80" r="2.0" fill="rgba(50,90,175,0.32)"/>
<circle cx="323.50" cy="426.20" r="2.0" fill="rgba(50,90,175,0.32)"/>
<circle cx="321.00" cy="454.00" r="2.0" fill="rgba(50,90,175,0.32)"/>
<circle cx="356.20" cy="397.90" r="2.2" fill="rgba(240,170,30,0.55)"/>
<circle cx="346.00" cy="409.20" r="2.2" fill="rgba(240,170,30,0.55)"/>
<circle cx="349.80" cy="410.80" r="2.2" fill="rgba(240,170,30,0.55)"/>
<circle cx="354.60" cy="411.20" r="2.2" fill="rgba(240,170,30,0.55)"/>
<circle cx="358.50" cy="410.80" r="2.2" fill="rgba(240,170,30,0.55)"/>
<circle cx="363.30" cy="410.40" r="2.2" fill="rgba(240,170,30,0.55)"/>
<circle cx="367.10" cy="409.80" r="2.2" fill="rgba(240,170,30,0.55)"/>
<circle cx="348.80" cy="414.60" r="2.2" fill="rgba(240,170,30,0.55)"/>
<circle cx="354.60" cy="414.20" r="2.2" fill="rgba(240,170,30,0.55)"/>
<circle cx="360.40" cy="414.60" r="2.2" fill="rgba(240,170,30,0.55)"/>
<circle cx="364.20" cy="418.50" r="2.2" fill="rgba(240,170,30,0.55)"/>
<circle cx="347.90" cy="420.80" r="2.2" fill="rgba(240,170,30,0.55)"/>
<circle cx="351.70" cy="421.30" r="2.2" fill="rgba(240,170,30,0.55)"/>
<circle cx="356.20" cy="421.30" r="2.2" fill="rgba(240,170,30,0.55)"/>
<circle cx="360.40" cy="420.80" r="2.2" fill="rgba(240,170,30,0.55)"/>
<circle cx="356.20" cy="429.60" r="2.2" fill="rgba(240,170,30,0.55)"/>
<text x="7.60" y="17.70" font-size="11.8" text-anchor="start" font-weight="bold" fill="#111">A</text>
<text x="176.70" y="17.70" font-size="11.8" text-anchor="start" font-weight="bold" fill="#111">B</text>
<text x="346.00" y="17.70" font-size="11.8" text-anchor="start" font-weight="bold" fill="#111">C</text>
<text x="7.40" y="202.70" font-size="11.8" text-anchor="start" font-weight="bold" fill="#111">D</text>
<text x="177.10" y="202.70" font-size="11.8" text-anchor="start" font-weight="bold" fill="#111">E</text>
<text x="345.50" y="202.70" font-size="11.8" text-anchor="start" font-weight="bold" fill="#111">F</text>
<text x="99.60" y="378.70" font-size="11.8" text-anchor="start" font-weight="bold" fill="#111">G</text>
<text x="242.60" y="378.60" font-size="11.8" text-anchor="start" font-weight="bold" fill="#111">H</text>
<line x1="33.90" y1="49.40" x2="33.90" y2="157.90" stroke="#111" stroke-width="1.3"/>
<line x1="31.00" y1="157.30" x2="33.90" y2="157.30" stroke="#111" stroke-width="1.0"/>
<line x1="31.00" y1="131.10" x2="33.90" y2="131.10" stroke="#111" stroke-width="1.0"/>
<line x1="31.00" y1="104.90" x2="33.90" y2="104.90" stroke="#111" stroke-width="1.0"/>
<line x1="31.00" y1="78.70" x2="33.90" y2="78.70" stroke="#111" stroke-width="1.0"/>
<line x1="31.00" y1="52.50" x2="33.90" y2="52.50" stroke="#111" stroke-width="1.0"/>
<line x1="32.50" y1="144.20" x2="33.90" y2="144.20" stroke="#111" stroke-width="0.9"/>
<line x1="32.50" y1="118.00" x2="33.90" y2="118.00" stroke="#111" stroke-width="0.9"/>
<line x1="32.50" y1="91.80" x2="33.90" y2="91.80" stroke="#111" stroke-width="0.9"/>
<line x1="32.50" y1="65.60" x2="33.90" y2="65.60" stroke="#111" stroke-width="0.9"/>
<text x="27.60" y="159.25" font-size="6.0" text-anchor="end" fill="#2a2a2a" textLength="3.8" lengthAdjust="spacingAndGlyphs" class="lt">6</text>
<text x="27.60" y="133.05" font-size="6.0" text-anchor="end" fill="#2a2a2a" textLength="3.8" lengthAdjust="spacingAndGlyphs" class="lt">8</text>
<text x="27.60" y="106.85" font-size="6.0" text-anchor="end" fill="#2a2a2a" textLength="6.35" lengthAdjust="spacingAndGlyphs" class="lt">10</text>
<text x="27.60" y="80.65" font-size="6.0" text-anchor="end" fill="#2a2a2a" textLength="6.35" lengthAdjust="spacingAndGlyphs" class="lt">12</text>
<text x="27.60" y="54.45" font-size="6.0" text-anchor="end" fill="#2a2a2a" textLength="6.35" lengthAdjust="spacingAndGlyphs" class="lt">14</text>
<line x1="31.00" y1="157.30" x2="144.70" y2="157.30" stroke="#111" stroke-width="1.3"/>
<text x="14.00" y="103.20" font-size="7.1" text-anchor="middle" fill="#2a2a2a" transform="rotate(-90 14.00 103.20)" textLength="22.5" lengthAdjust="spacingAndGlyphs" class="lt">PT (sec)</text>
<text x="47.50" y="166.00" font-size="6.4" text-anchor="middle" fill="#2a2a2a">WT</text>
<text x="58.00" y="166.00" font-size="6.4" text-anchor="start" fill="#2a2a2a" textLength="23.2" lengthAdjust="spacingAndGlyphs">Tek-Cre</text>
<text x="81.70" y="162.60" font-size="4.2" text-anchor="start" fill="#2a2a2a">+/-</text>
<text x="91.00" y="166.00" font-size="6.4" text-anchor="start" fill="#2a2a2a" textLength="18.6" lengthAdjust="spacingAndGlyphs">PON2</text>
<text x="109.90" y="162.60" font-size="4.2" text-anchor="start" fill="#2a2a2a">-/-</text>
<text x="120.10" y="166.00" font-size="6.4" text-anchor="start" fill="#2a2a2a" textLength="23.2" lengthAdjust="spacingAndGlyphs">Tek-Cre</text>
<text x="143.60" y="162.60" font-size="4.2" text-anchor="start" fill="#2a2a2a">+/-</text>
<text x="120.10" y="174.30" font-size="6.4" text-anchor="start" fill="#2a2a2a" textLength="18.4" lengthAdjust="spacingAndGlyphs">PON2</text>
<text x="138.60" y="170.90" font-size="4.0" text-anchor="start" fill="#2a2a2a" textLength="22.4" lengthAdjust="spacingAndGlyphs">ΔCrestored</text>
<path d="M76.40 17.60V15.40H130.70V17.60" fill="none" stroke="#111" stroke-width="1.1"/>
<text x="103.55" y="12.40" font-size="5.8" text-anchor="middle" fill="#2a2a2a">p&gt;0.9</text>
<path d="M48.30 28.60V26.40H102.50V28.60" fill="none" stroke="#111" stroke-width="1.1"/>
<text x="75.40" y="23.40" font-size="5.8" text-anchor="middle" fill="#2a2a2a">p=0.0002</text>
<path d="M48.30 38.50V36.30H130.70V38.50" fill="none" stroke="#111" stroke-width="1.1"/>
<text x="89.50" y="33.30" font-size="5.8" text-anchor="middle" fill="#2a2a2a">p&gt;0.9</text>
<path d="M48.30 50.50V48.30H74.40V50.50" fill="none" stroke="#111" stroke-width="1.1"/>
<text x="61.35" y="45.30" font-size="5.8" text-anchor="middle" fill="#2a2a2a">p&gt;0.9</text>
<path d="M76.40 50.50V48.30H102.50V50.50" fill="none" stroke="#111" stroke-width="1.1"/>
<text x="89.45" y="45.30" font-size="5.8" text-anchor="middle" fill="#2a2a2a">p=0.0005</text>
<path d="M104.50 50.50V48.30H130.70V50.50" fill="none" stroke="#111" stroke-width="1.1"/>
<text x="117.60" y="45.30" font-size="5.8" text-anchor="middle" fill="#2a2a2a">p=0.0010</text>
<line x1="203.60" y1="48.30" x2="203.60" y2="157.90" stroke="#111" stroke-width="1.3"/>
<line x1="200.70" y1="157.30" x2="203.60" y2="157.30" stroke="#111" stroke-width="1.0"/>
<line x1="200.70" y1="144.12" x2="203.60" y2="144.12" stroke="#111" stroke-width="1.0"/>
<line x1="200.70" y1="130.94" x2="203.60" y2="130.94" stroke="#111" stroke-width="1.0"/>
<line x1="200.70" y1="117.76" x2="203.60" y2="117.76" stroke="#111" stroke-width="1.0"/>
<line x1="200.70" y1="104.58" x2="203.60" y2="104.58" stroke="#111" stroke-width="1.0"/>
<line x1="200.70" y1="91.40" x2="203.60" y2="91.40" stroke="#111" stroke-width="1.0"/>
<line x1="200.70" y1="78.22" x2="203.60" y2="78.22" stroke="#111" stroke-width="1.0"/>
<line x1="200.70" y1="65.04" x2="203.60" y2="65.04" stroke="#111" stroke-width="1.0"/>
<line x1="200.70" y1="51.86" x2="203.60" y2="51.86" stroke="#111" stroke-width="1.0"/>
<line x1="202.20" y1="150.71" x2="203.60" y2="150.71" stroke="#111" stroke-width="0.9"/>
<line x1="202.20" y1="137.53" x2="203.60" y2="137.53" stroke="#111" stroke-width="0.9"/>
<line x1="202.20" y1="124.35" x2="203.60" y2="124.35" stroke="#111" stroke-width="0.9"/>
<line x1="202.20" y1="111.17" x2="203.60" y2="111.17" stroke="#111" stroke-width="0.9"/>
<line x1="202.20" y1="97.99" x2="203.60" y2="97.99" stroke="#111" stroke-width="0.9"/>
<line x1="202.20" y1="84.81" x2="203.60" y2="84.81" stroke="#111" stroke-width="0.9"/>
<line x1="202.20" y1="71.63" x2="203.60" y2="71.63" stroke="#111" stroke-width="0.9"/>
<line x1="202.20" y1="58.45" x2="203.60" y2="58.45" stroke="#111" stroke-width="0.9"/>
<text x="197.30" y="159.25" font-size="6.0" text-anchor="end" fill="#2a2a2a" textLength="7.6" lengthAdjust="spacingAndGlyphs" class="lt">20</text>
<text x="197.30" y="146.07" font-size="6.0" text-anchor="end" fill="#2a2a2a" textLength="7.6" lengthAdjust="spacingAndGlyphs" class="lt">25</text>
<text x="197.30" y="132.89" font-size="6.0" text-anchor="end" fill="#2a2a2a" textLength="7.6" lengthAdjust="spacingAndGlyphs" class="lt">30</text>
<text x="197.30" y="119.71" font-size="6.0" text-anchor="end" fill="#2a2a2a" textLength="7.6" lengthAdjust="spacingAndGlyphs" class="lt">35</text>
<text x="197.30" y="106.53" font-size="6.0" text-anchor="end" fill="#2a2a2a" textLength="7.6" lengthAdjust="spacingAndGlyphs" class="lt">40</text>
<text x="197.30" y="93.35" font-size="6.0" text-anchor="end" fill="#2a2a2a" textLength="7.6" lengthAdjust="spacingAndGlyphs" class="lt">45</text>
<text x="197.30" y="80.17" font-size="6.0" text-anchor="end" fill="#2a2a2a" textLength="7.6" lengthAdjust="spacingAndGlyphs" class="lt">50</text>
<text x="197.30" y="66.99" font-size="6.0" text-anchor="end" fill="#2a2a2a" textLength="7.6" lengthAdjust="spacingAndGlyphs" class="lt">55</text>
<text x="197.30" y="53.81" font-size="6.0" text-anchor="end" fill="#2a2a2a" textLength="7.6" lengthAdjust="spacingAndGlyphs" class="lt">60</text>
<line x1="201.00" y1="157.30" x2="315.80" y2="157.30" stroke="#111" stroke-width="1.3"/>
<text x="183.90" y="103.90" font-size="7.1" text-anchor="middle" fill="#2a2a2a" transform="rotate(-90 183.90 103.90)" textLength="29.5" lengthAdjust="spacingAndGlyphs" class="lt">aPTT (sec)</text>
<text x="218.30" y="166.00" font-size="6.4" text-anchor="middle" fill="#2a2a2a">WT</text>
<text x="228.80" y="166.00" font-size="6.4" text-anchor="start" fill="#2a2a2a" textLength="23.2" lengthAdjust="spacingAndGlyphs">Tek-Cre</text>
<text x="252.50" y="162.60" font-size="4.2" text-anchor="start" fill="#2a2a2a">+/-</text>
<text x="261.80" y="166.00" font-size="6.4" text-anchor="start" fill="#2a2a2a" textLength="18.6" lengthAdjust="spacingAndGlyphs">PON2</text>
<text x="280.70" y="162.60" font-size="4.2" text-anchor="start" fill="#2a2a2a">-/-</text>
<text x="290.90" y="166.00" font-size="6.4" text-anchor="start" fill="#2a2a2a" textLength="23.2" lengthAdjust="spacingAndGlyphs">Tek-Cre</text>
<text x="314.40" y="162.60" font-size="4.2" text-anchor="start" fill="#2a2a2a">+/-</text>
<text x="290.90" y="174.30" font-size="6.4" text-anchor="start" fill="#2a2a2a" textLength="18.4" lengthAdjust="spacingAndGlyphs">PON2</text>
<text x="309.40" y="170.90" font-size="4.0" text-anchor="start" fill="#2a2a2a" textLength="22.4" lengthAdjust="spacingAndGlyphs">ΔCrestored</text>
<path d="M246.80 17.40V15.20H301.70V17.40" fill="none" stroke="#111" stroke-width="1.1"/>
<text x="274.25" y="12.20" font-size="5.8" text-anchor="middle" fill="#2a2a2a">p&gt;0.9</text>
<path d="M219.30 28.10V25.90H273.50V28.10" fill="none" stroke="#111" stroke-width="1.1"/>
<text x="246.40" y="22.90" font-size="5.8" text-anchor="middle" fill="#2a2a2a">p=0.001</text>
<path d="M219.30 38.10V35.90H301.70V38.10" fill="none" stroke="#111" stroke-width="1.1"/>
<text x="260.50" y="32.90" font-size="5.8" text-anchor="middle" fill="#2a2a2a">p&gt;0.9</text>
<path d="M219.30 50.10V47.90H245.00V50.10" fill="none" stroke="#111" stroke-width="1.1"/>
<text x="232.15" y="44.90" font-size="5.8" text-anchor="middle" fill="#2a2a2a">p&gt;0.9</text>
<path d="M246.80 50.10V47.90H273.20V50.10" fill="none" stroke="#111" stroke-width="1.1"/>
<text x="260.00" y="44.90" font-size="5.8" text-anchor="middle" fill="#2a2a2a">p=0.012</text>
<path d="M275.50 50.10V47.90H301.70V50.10" fill="none" stroke="#111" stroke-width="1.1"/>
<text x="288.60" y="44.90" font-size="5.8" text-anchor="middle" fill="#2a2a2a">p=0.061</text>
<line x1="376.70" y1="48.00" x2="376.70" y2="157.90" stroke="#111" stroke-width="1.3"/>
<line x1="373.80" y1="157.60" x2="376.70" y2="157.60" stroke="#111" stroke-width="1.0"/>
<line x1="373.80" y1="146.94" x2="376.70" y2="146.94" stroke="#111" stroke-width="1.0"/>
<line x1="373.80" y1="136.28" x2="376.70" y2="136.28" stroke="#111" stroke-width="1.0"/>
<line x1="373.80" y1="125.62" x2="376.70" y2="125.62" stroke="#111" stroke-width="1.0"/>
<line x1="373.80" y1="114.96" x2="376.70" y2="114.96" stroke="#111" stroke-width="1.0"/>
<line x1="373.80" y1="104.30" x2="376.70" y2="104.30" stroke="#111" stroke-width="1.0"/>
<line x1="373.80" y1="93.64" x2="376.70" y2="93.64" stroke="#111" stroke-width="1.0"/>
<line x1="373.80" y1="82.98" x2="376.70" y2="82.98" stroke="#111" stroke-width="1.0"/>
<line x1="373.80" y1="72.32" x2="376.70" y2="72.32" stroke="#111" stroke-width="1.0"/>
<line x1="373.80" y1="61.66" x2="376.70" y2="61.66" stroke="#111" stroke-width="1.0"/>
<line x1="373.80" y1="51.00" x2="376.70" y2="51.00" stroke="#111" stroke-width="1.0"/>
<line x1="375.30" y1="152.27" x2="376.70" y2="152.27" stroke="#111" stroke-width="0.9"/>
<line x1="375.30" y1="141.61" x2="376.70" y2="141.61" stroke="#111" stroke-width="0.9"/>
<line x1="375.30" y1="130.95" x2="376.70" y2="130.95" stroke="#111" stroke-width="0.9"/>
<line x1="375.30" y1="120.29" x2="376.70" y2="120.29" stroke="#111" stroke-width="0.9"/>
<line x1="375.30" y1="109.63" x2="376.70" y2="109.63" stroke="#111" stroke-width="0.9"/>
<line x1="375.30" y1="98.97" x2="376.70" y2="98.97" stroke="#111" stroke-width="0.9"/>
<line x1="375.30" y1="88.31" x2="376.70" y2="88.31" stroke="#111" stroke-width="0.9"/>
<line x1="375.30" y1="77.65" x2="376.70" y2="77.65" stroke="#111" stroke-width="0.9"/>
<line x1="375.30" y1="66.99" x2="376.70" y2="66.99" stroke="#111" stroke-width="0.9"/>
<line x1="375.30" y1="56.33" x2="376.70" y2="56.33" stroke="#111" stroke-width="0.9"/>
<text x="370.40" y="159.55" font-size="6.0" text-anchor="end" fill="#2a2a2a" textLength="3.8" lengthAdjust="spacingAndGlyphs" class="lt">0</text>
<text x="370.40" y="148.89" font-size="6.0" text-anchor="end" fill="#2a2a2a" textLength="7.6" lengthAdjust="spacingAndGlyphs" class="lt">60</text>
<text x="370.40" y="138.23" font-size="6.0" text-anchor="end" fill="#2a2a2a" textLength="10.15" lengthAdjust="spacingAndGlyphs" class="lt">120</text>
<text x="370.40" y="127.57" font-size="6.0" text-anchor="end" fill="#2a2a2a" textLength="10.15" lengthAdjust="spacingAndGlyphs" class="lt">180</text>
<text x="370.40" y="116.91" font-size="6.0" text-anchor="end" fill="#2a2a2a" textLength="11.4" lengthAdjust="spacingAndGlyphs" class="lt">240</text>
<text x="370.40" y="106.25" font-size="6.0" text-anchor="end" fill="#2a2a2a" textLength="11.4" lengthAdjust="spacingAndGlyphs" class="lt">300</text>
<text x="370.40" y="95.59" font-size="6.0" text-anchor="end" fill="#2a2a2a" textLength="11.4" lengthAdjust="spacingAndGlyphs" class="lt">360</text>
<text x="370.40" y="84.93" font-size="6.0" text-anchor="end" fill="#2a2a2a" textLength="11.4" lengthAdjust="spacingAndGlyphs" class="lt">420</text>
<text x="370.40" y="74.27" font-size="6.0" text-anchor="end" fill="#2a2a2a" textLength="11.4" lengthAdjust="spacingAndGlyphs" class="lt">480</text>
<text x="370.40" y="63.61" font-size="6.0" text-anchor="end" fill="#2a2a2a" textLength="11.4" lengthAdjust="spacingAndGlyphs" class="lt">540</text>
<text x="370.40" y="52.95" font-size="6.0" text-anchor="end" fill="#2a2a2a" textLength="11.4" lengthAdjust="spacingAndGlyphs" class="lt">600</text>
<line x1="374.30" y1="157.30" x2="489.00" y2="157.30" stroke="#111" stroke-width="1.3"/>
<text x="353.30" y="103.20" font-size="7.0" text-anchor="middle" fill="#2a2a2a" transform="rotate(-90 353.30 103.20)" textLength="82.3" lengthAdjust="spacingAndGlyphs" class="lt">Tail tip bleeding time (sec)</text>
<text x="391.60" y="166.00" font-size="6.4" text-anchor="middle" fill="#2a2a2a">WT</text>
<text x="402.10" y="166.00" font-size="6.4" text-anchor="start" fill="#2a2a2a" textLength="23.2" lengthAdjust="spacingAndGlyphs">Tek-Cre</text>
<text x="425.80" y="162.60" font-size="4.2" text-anchor="start" fill="#2a2a2a">+/-</text>
<text x="435.10" y="166.00" font-size="6.4" text-anchor="start" fill="#2a2a2a" textLength="18.6" lengthAdjust="spacingAndGlyphs">PON2</text>
<text x="454.00" y="162.60" font-size="4.2" text-anchor="start" fill="#2a2a2a">-/-</text>
<text x="464.20" y="166.00" font-size="6.4" text-anchor="start" fill="#2a2a2a" textLength="23.2" lengthAdjust="spacingAndGlyphs">Tek-Cre</text>
<text x="487.70" y="162.60" font-size="4.2" text-anchor="start" fill="#2a2a2a">+/-</text>
<text x="464.20" y="174.30" font-size="6.4" text-anchor="start" fill="#2a2a2a" textLength="18.4" lengthAdjust="spacingAndGlyphs">PON2</text>
<text x="482.70" y="170.90" font-size="4.0" text-anchor="start" fill="#2a2a2a" textLength="22.4" lengthAdjust="spacingAndGlyphs">ΔCrestored</text>
<path d="M420.30 17.40V15.20H475.10V17.40" fill="none" stroke="#111" stroke-width="1.1"/>
<text x="447.70" y="12.20" font-size="5.8" text-anchor="middle" fill="#2a2a2a">p&gt;0.9</text>
<path d="M392.70 28.10V25.90H446.70V28.10" fill="none" stroke="#111" stroke-width="1.1"/>
<text x="419.70" y="22.90" font-size="5.8" text-anchor="middle" fill="#2a2a2a">p=0.002</text>
<path d="M392.70 38.10V35.90H475.10V38.10" fill="none" stroke="#111" stroke-width="1.1"/>
<text x="433.90" y="32.90" font-size="5.8" text-anchor="middle" fill="#2a2a2a">p&gt;0.9</text>
<path d="M392.70 50.10V47.90H418.50V50.10" fill="none" stroke="#111" stroke-width="1.1"/>
<text x="405.60" y="44.90" font-size="5.8" text-anchor="middle" fill="#2a2a2a">p&gt;0.9</text>
<path d="M420.30 50.10V47.90H446.70V50.10" fill="none" stroke="#111" stroke-width="1.1"/>
<text x="433.50" y="44.90" font-size="5.8" text-anchor="middle" fill="#2a2a2a">p=0.046</text>
<path d="M448.80 50.10V47.90H475.10V50.10" fill="none" stroke="#111" stroke-width="1.1"/>
<text x="461.95" y="44.90" font-size="5.8" text-anchor="middle" fill="#2a2a2a">p=0.062</text>
<line x1="33.90" y1="222.50" x2="33.90" y2="332.30" stroke="#111" stroke-width="1.3"/>
<line x1="31.00" y1="331.80" x2="33.90" y2="331.80" stroke="#111" stroke-width="1.0"/>
<line x1="31.00" y1="305.15" x2="33.90" y2="305.15" stroke="#111" stroke-width="1.0"/>
<line x1="31.00" y1="278.50" x2="33.90" y2="278.50" stroke="#111" stroke-width="1.0"/>
<line x1="31.00" y1="251.85" x2="33.90" y2="251.85" stroke="#111" stroke-width="1.0"/>
<line x1="31.00" y1="225.20" x2="33.90" y2="225.20" stroke="#111" stroke-width="1.0"/>
<line x1="32.50" y1="318.45" x2="33.90" y2="318.45" stroke="#111" stroke-width="0.9"/>
<line x1="32.50" y1="291.80" x2="33.90" y2="291.80" stroke="#111" stroke-width="0.9"/>
<line x1="32.50" y1="265.15" x2="33.90" y2="265.15" stroke="#111" stroke-width="0.9"/>
<line x1="32.50" y1="238.50" x2="33.90" y2="238.50" stroke="#111" stroke-width="0.9"/>
<text x="27.60" y="333.75" font-size="6.0" text-anchor="end" fill="#2a2a2a" textLength="3.8" lengthAdjust="spacingAndGlyphs" class="lt">6</text>
<text x="27.60" y="307.10" font-size="6.0" text-anchor="end" fill="#2a2a2a" textLength="3.8" lengthAdjust="spacingAndGlyphs" class="lt">8</text>
<text x="27.60" y="280.45" font-size="6.0" text-anchor="end" fill="#2a2a2a" textLength="6.35" lengthAdjust="spacingAndGlyphs" class="lt">10</text>
<text x="27.60" y="253.80" font-size="6.0" text-anchor="end" fill="#2a2a2a" textLength="6.35" lengthAdjust="spacingAndGlyphs" class="lt">12</text>
<text x="27.60" y="227.15" font-size="6.0" text-anchor="end" fill="#2a2a2a" textLength="6.35" lengthAdjust="spacingAndGlyphs" class="lt">14</text>
<line x1="31.30" y1="331.70" x2="141.20" y2="331.70" stroke="#111" stroke-width="1.3"/>
<text x="14.10" y="277.00" font-size="7.1" text-anchor="middle" fill="#2a2a2a" transform="rotate(-90 14.10 277.00)" textLength="22.5" lengthAdjust="spacingAndGlyphs" class="lt">PT (sec)</text>
<path d="M74.60 202.50V200.30H127.80V202.50" fill="none" stroke="#111" stroke-width="1.1"/>
<text x="101.20" y="197.30" font-size="5.8" text-anchor="middle" fill="#2a2a2a">p&gt;0.9</text>
<path d="M47.10 213.00V210.80H100.30V213.00" fill="none" stroke="#111" stroke-width="1.1"/>
<text x="73.70" y="207.80" font-size="5.8" text-anchor="middle" fill="#2a2a2a">p&gt;0.9</text>
<path d="M47.10 223.30V221.10H127.80V223.30" fill="none" stroke="#111" stroke-width="1.1"/>
<text x="87.45" y="218.10" font-size="5.8" text-anchor="middle" fill="#2a2a2a">p=0.001</text>
<path d="M47.10 234.80V232.60H73.10V234.80" fill="none" stroke="#111" stroke-width="1.1"/>
<text x="60.10" y="229.60" font-size="5.8" text-anchor="middle" fill="#2a2a2a">p=0.006</text>
<path d="M75.20 234.80V232.60H100.30V234.80" fill="none" stroke="#111" stroke-width="1.1"/>
<text x="87.75" y="229.60" font-size="5.8" text-anchor="middle" fill="#2a2a2a">p=0.057</text>
<path d="M102.40 234.80V232.60H127.80V234.80" fill="none" stroke="#111" stroke-width="1.1"/>
<text x="115.10" y="229.60" font-size="5.8" text-anchor="middle" fill="#2a2a2a">p=0.011</text>
<rect x="34.20" y="334.60" width="105.80" height="21.20" fill="none" stroke="#111" stroke-width="1.25"/>
<line x1="34.20" y1="345.20" x2="140.00" y2="345.20" stroke="#111" stroke-width="1.25"/>
<line x1="60.30" y1="334.60" x2="60.30" y2="355.80" stroke="#111" stroke-width="1.25"/>
<line x1="86.70" y1="334.60" x2="86.70" y2="355.80" stroke="#111" stroke-width="1.25"/>
<line x1="113.10" y1="334.60" x2="113.10" y2="355.80" stroke="#111" stroke-width="1.25"/>
<text x="47.25" y="342.20" font-size="6.4" text-anchor="middle" fill="#2a2a2a">WT</text>
<text x="47.25" y="352.80" font-size="6.4" text-anchor="middle" fill="#2a2a2a">WT</text>
<text x="71.10" y="342.20" font-size="6.5" text-anchor="middle" fill="#2a2a2a" textLength="18.2" lengthAdjust="spacingAndGlyphs">PON2</text>
<text x="80.40" y="338.90" font-size="4.0" text-anchor="start" fill="#2a2a2a">-/-</text>
<text x="71.10" y="352.80" font-size="6.5" text-anchor="middle" fill="#2a2a2a" textLength="18.2" lengthAdjust="spacingAndGlyphs">PON2</text>
<text x="80.40" y="349.50" font-size="4.0" text-anchor="start" fill="#2a2a2a">-/-</text>
<text x="99.90" y="342.20" font-size="6.4" text-anchor="middle" fill="#2a2a2a">WT</text>
<text x="97.50" y="352.80" font-size="6.5" text-anchor="middle" fill="#2a2a2a" textLength="18.2" lengthAdjust="spacingAndGlyphs">PON2</text>
<text x="106.80" y="349.50" font-size="4.0" text-anchor="start" fill="#2a2a2a">-/-</text>
<text x="124.15" y="342.20" font-size="6.5" text-anchor="middle" fill="#2a2a2a" textLength="18.2" lengthAdjust="spacingAndGlyphs">PON2</text>
<text x="133.45" y="338.90" font-size="4.0" text-anchor="start" fill="#2a2a2a">-/-</text>
<text x="126.55" y="352.80" font-size="6.4" text-anchor="middle" fill="#2a2a2a">WT</text>
<text x="143.50" y="342.20" font-size="6.5" text-anchor="start" fill="#2a2a2a" textLength="28.2" lengthAdjust="spacingAndGlyphs">Recipient</text>
<text x="143.50" y="352.80" font-size="6.5" text-anchor="start" fill="#2a2a2a" textLength="19.2" lengthAdjust="spacingAndGlyphs">Donor</text>
<line x1="203.70" y1="223.90" x2="203.70" y2="331.90" stroke="#111" stroke-width="1.3"/>
<line x1="200.80" y1="323.40" x2="203.70" y2="323.40" stroke="#111" stroke-width="1.0"/>
<line x1="200.80" y1="307.25" x2="203.70" y2="307.25" stroke="#111" stroke-width="1.0"/>
<line x1="200.80" y1="291.10" x2="203.70" y2="291.10" stroke="#111" stroke-width="1.0"/>
<line x1="200.80" y1="274.95" x2="203.70" y2="274.95" stroke="#111" stroke-width="1.0"/>
<line x1="200.80" y1="258.80" x2="203.70" y2="258.80" stroke="#111" stroke-width="1.0"/>
<line x1="200.80" y1="242.65" x2="203.70" y2="242.65" stroke="#111" stroke-width="1.0"/>
<line x1="200.80" y1="226.50" x2="203.70" y2="226.50" stroke="#111" stroke-width="1.0"/>
<line x1="202.30" y1="315.32" x2="203.70" y2="315.32" stroke="#111" stroke-width="0.9"/>
<line x1="202.30" y1="299.17" x2="203.70" y2="299.17" stroke="#111" stroke-width="0.9"/>
<line x1="202.30" y1="283.02" x2="203.70" y2="283.02" stroke="#111" stroke-width="0.9"/>
<line x1="202.30" y1="266.87" x2="203.70" y2="266.87" stroke="#111" stroke-width="0.9"/>
<line x1="202.30" y1="250.72" x2="203.70" y2="250.72" stroke="#111" stroke-width="0.9"/>
<line x1="202.30" y1="234.57" x2="203.70" y2="234.57" stroke="#111" stroke-width="0.9"/>
<text x="197.40" y="325.35" font-size="6.0" text-anchor="end" fill="#2a2a2a" textLength="7.6" lengthAdjust="spacingAndGlyphs" class="lt">25</text>
<text x="197.40" y="309.20" font-size="6.0" text-anchor="end" fill="#2a2a2a" textLength="7.6" lengthAdjust="spacingAndGlyphs" class="lt">30</text>
<text x="197.40" y="293.05" font-size="6.0" text-anchor="end" fill="#2a2a2a" textLength="7.6" lengthAdjust="spacingAndGlyphs" class="lt">35</text>
<text x="197.40" y="276.90" font-size="6.0" text-anchor="end" fill="#2a2a2a" textLength="7.6" lengthAdjust="spacingAndGlyphs" class="lt">40</text>
<text x="197.40" y="260.75" font-size="6.0" text-anchor="end" fill="#2a2a2a" textLength="7.6" lengthAdjust="spacingAndGlyphs" class="lt">45</text>
<text x="197.40" y="244.60" font-size="6.0" text-anchor="end" fill="#2a2a2a" textLength="7.6" lengthAdjust="spacingAndGlyphs" class="lt">50</text>
<text x="197.40" y="228.45" font-size="6.0" text-anchor="end" fill="#2a2a2a" textLength="7.6" lengthAdjust="spacingAndGlyphs" class="lt">55</text>
<line x1="201.30" y1="331.40" x2="307.80" y2="331.40" stroke="#111" stroke-width="1.3"/>
<text x="184.30" y="276.50" font-size="7.1" text-anchor="middle" fill="#2a2a2a" transform="rotate(-90 184.30 276.50)" textLength="29.5" lengthAdjust="spacingAndGlyphs" class="lt">aPTT (sec)</text>
<path d="M242.50 202.00V199.80H296.00V202.00" fill="none" stroke="#111" stroke-width="1.1"/>
<text x="269.25" y="196.80" font-size="5.8" text-anchor="middle" fill="#2a2a2a">p&gt;0.9</text>
<path d="M215.00 212.50V210.30H268.50V212.50" fill="none" stroke="#111" stroke-width="1.1"/>
<text x="241.75" y="207.30" font-size="5.8" text-anchor="middle" fill="#2a2a2a">p&gt;0.9</text>
<path d="M215.00 222.80V220.60H296.00V222.80" fill="none" stroke="#111" stroke-width="1.1"/>
<text x="255.50" y="217.60" font-size="5.8" text-anchor="middle" fill="#2a2a2a">p=0.038</text>
<path d="M215.00 234.30V232.10H241.50V234.30" fill="none" stroke="#111" stroke-width="1.1"/>
<text x="228.25" y="229.10" font-size="5.8" text-anchor="middle" fill="#2a2a2a">p=0.108</text>
<path d="M243.00 234.30V232.10H268.50V234.30" fill="none" stroke="#111" stroke-width="1.1"/>
<text x="255.75" y="229.10" font-size="5.8" text-anchor="middle" fill="#2a2a2a">p=0.231</text>
<path d="M270.40 234.30V232.10H296.00V234.30" fill="none" stroke="#111" stroke-width="1.1"/>
<text x="283.20" y="229.10" font-size="5.8" text-anchor="middle" fill="#2a2a2a">p=0.074</text>
<rect x="203.70" y="335.10" width="104.30" height="20.40" fill="none" stroke="#111" stroke-width="1.25"/>
<line x1="203.70" y1="345.60" x2="308.00" y2="345.60" stroke="#111" stroke-width="1.25"/>
<line x1="229.60" y1="335.10" x2="229.60" y2="355.50" stroke="#111" stroke-width="1.25"/>
<line x1="255.60" y1="335.10" x2="255.60" y2="355.50" stroke="#111" stroke-width="1.25"/>
<line x1="281.50" y1="335.10" x2="281.50" y2="355.50" stroke="#111" stroke-width="1.25"/>
<text x="216.65" y="342.65" font-size="6.4" text-anchor="middle" fill="#2a2a2a">WT</text>
<text x="216.65" y="352.85" font-size="6.4" text-anchor="middle" fill="#2a2a2a">WT</text>
<text x="240.20" y="342.65" font-size="6.5" text-anchor="middle" fill="#2a2a2a" textLength="18.2" lengthAdjust="spacingAndGlyphs">PON2</text>
<text x="249.50" y="339.35" font-size="4.0" text-anchor="start" fill="#2a2a2a">-/-</text>
<text x="240.20" y="352.85" font-size="6.5" text-anchor="middle" fill="#2a2a2a" textLength="18.2" lengthAdjust="spacingAndGlyphs">PON2</text>
<text x="249.50" y="349.55" font-size="4.0" text-anchor="start" fill="#2a2a2a">-/-</text>
<text x="268.55" y="342.65" font-size="6.4" text-anchor="middle" fill="#2a2a2a">WT</text>
<text x="266.15" y="352.85" font-size="6.5" text-anchor="middle" fill="#2a2a2a" textLength="18.2" lengthAdjust="spacingAndGlyphs">PON2</text>
<text x="275.45" y="349.55" font-size="4.0" text-anchor="start" fill="#2a2a2a">-/-</text>
<text x="292.35" y="342.65" font-size="6.5" text-anchor="middle" fill="#2a2a2a" textLength="18.2" lengthAdjust="spacingAndGlyphs">PON2</text>
<text x="301.65" y="339.35" font-size="4.0" text-anchor="start" fill="#2a2a2a">-/-</text>
<text x="294.75" y="352.85" font-size="6.4" text-anchor="middle" fill="#2a2a2a">WT</text>
<text x="311.80" y="342.65" font-size="6.5" text-anchor="start" fill="#2a2a2a" textLength="28.2" lengthAdjust="spacingAndGlyphs">Recipient</text>
<text x="311.80" y="352.85" font-size="6.5" text-anchor="start" fill="#2a2a2a" textLength="19.2" lengthAdjust="spacingAndGlyphs">Donor</text>
<line x1="377.80" y1="223.40" x2="377.80" y2="331.90" stroke="#111" stroke-width="1.3"/>
<line x1="374.90" y1="331.30" x2="377.80" y2="331.30" stroke="#111" stroke-width="1.0"/>
<line x1="374.90" y1="319.68" x2="377.80" y2="319.68" stroke="#111" stroke-width="1.0"/>
<line x1="374.90" y1="308.06" x2="377.80" y2="308.06" stroke="#111" stroke-width="1.0"/>
<line x1="374.90" y1="296.44" x2="377.80" y2="296.44" stroke="#111" stroke-width="1.0"/>
<line x1="374.90" y1="284.82" x2="377.80" y2="284.82" stroke="#111" stroke-width="1.0"/>
<line x1="374.90" y1="273.20" x2="377.80" y2="273.20" stroke="#111" stroke-width="1.0"/>
<line x1="374.90" y1="261.58" x2="377.80" y2="261.58" stroke="#111" stroke-width="1.0"/>
<line x1="374.90" y1="249.96" x2="377.80" y2="249.96" stroke="#111" stroke-width="1.0"/>
<line x1="374.90" y1="238.34" x2="377.80" y2="238.34" stroke="#111" stroke-width="1.0"/>
<line x1="374.90" y1="226.72" x2="377.80" y2="226.72" stroke="#111" stroke-width="1.0"/>
<line x1="376.40" y1="325.49" x2="377.80" y2="325.49" stroke="#111" stroke-width="0.9"/>
<line x1="376.40" y1="313.87" x2="377.80" y2="313.87" stroke="#111" stroke-width="0.9"/>
<line x1="376.40" y1="302.25" x2="377.80" y2="302.25" stroke="#111" stroke-width="0.9"/>
<line x1="376.40" y1="290.63" x2="377.80" y2="290.63" stroke="#111" stroke-width="0.9"/>
<line x1="376.40" y1="279.01" x2="377.80" y2="279.01" stroke="#111" stroke-width="0.9"/>
<line x1="376.40" y1="267.39" x2="377.80" y2="267.39" stroke="#111" stroke-width="0.9"/>
<line x1="376.40" y1="255.77" x2="377.80" y2="255.77" stroke="#111" stroke-width="0.9"/>
<line x1="376.40" y1="244.15" x2="377.80" y2="244.15" stroke="#111" stroke-width="0.9"/>
<line x1="376.40" y1="232.53" x2="377.80" y2="232.53" stroke="#111" stroke-width="0.9"/>
<text x="371.50" y="333.25" font-size="6.0" text-anchor="end" fill="#2a2a2a" textLength="3.8" lengthAdjust="spacingAndGlyphs" class="lt">0</text>
<text x="371.50" y="321.63" font-size="6.0" text-anchor="end" fill="#2a2a2a" textLength="7.6" lengthAdjust="spacingAndGlyphs" class="lt">60</text>
<text x="371.50" y="310.01" font-size="6.0" text-anchor="end" fill="#2a2a2a" textLength="10.15" lengthAdjust="spacingAndGlyphs" class="lt">120</text>
<text x="371.50" y="298.39" font-size="6.0" text-anchor="end" fill="#2a2a2a" textLength="10.15" lengthAdjust="spacingAndGlyphs" class="lt">180</text>
<text x="371.50" y="286.77" font-size="6.0" text-anchor="end" fill="#2a2a2a" textLength="11.4" lengthAdjust="spacingAndGlyphs" class="lt">240</text>
<text x="371.50" y="275.15" font-size="6.0" text-anchor="end" fill="#2a2a2a" textLength="11.4" lengthAdjust="spacingAndGlyphs" class="lt">300</text>
<text x="371.50" y="263.53" font-size="6.0" text-anchor="end" fill="#2a2a2a" textLength="11.4" lengthAdjust="spacingAndGlyphs" class="lt">360</text>
<text x="371.50" y="251.91" font-size="6.0" text-anchor="end" fill="#2a2a2a" textLength="11.4" lengthAdjust="spacingAndGlyphs" class="lt">420</text>
<text x="371.50" y="240.29" font-size="6.0" text-anchor="end" fill="#2a2a2a" textLength="11.4" lengthAdjust="spacingAndGlyphs" class="lt">480</text>
<text x="371.50" y="228.67" font-size="6.0" text-anchor="end" fill="#2a2a2a" textLength="11.4" lengthAdjust="spacingAndGlyphs" class="lt">540</text>
<line x1="374.30" y1="331.60" x2="481.60" y2="331.60" stroke="#111" stroke-width="1.3"/>
<text x="352.90" y="277.50" font-size="7.0" text-anchor="middle" fill="#2a2a2a" transform="rotate(-90 352.90 277.50)" textLength="81.6" lengthAdjust="spacingAndGlyphs" class="lt">Tail tip bleeding time (sec)</text>
<path d="M416.20 202.20V200.00H469.40V202.20" fill="none" stroke="#111" stroke-width="1.1"/>
<text x="442.80" y="197.00" font-size="5.8" text-anchor="middle" fill="#2a2a2a">p&gt;0.9</text>
<path d="M388.70 212.60V210.40H441.90V212.60" fill="none" stroke="#111" stroke-width="1.1"/>
<text x="415.30" y="207.40" font-size="5.8" text-anchor="middle" fill="#2a2a2a">p&gt;0.9</text>
<path d="M388.70 222.80V220.60H469.40V222.80" fill="none" stroke="#111" stroke-width="1.1"/>
<text x="429.05" y="217.60" font-size="5.8" text-anchor="middle" fill="#2a2a2a">p=0.024</text>
<path d="M388.70 234.30V232.10H414.60V234.30" fill="none" stroke="#111" stroke-width="1.1"/>
<text x="401.65" y="229.10" font-size="5.8" text-anchor="middle" fill="#2a2a2a">p=0.523</text>
<path d="M416.20 234.30V232.10H441.90V234.30" fill="none" stroke="#111" stroke-width="1.1"/>
<text x="429.05" y="229.10" font-size="5.8" text-anchor="middle" fill="#2a2a2a">p&gt;0.9</text>
<path d="M443.80 234.30V232.10H469.40V234.30" fill="none" stroke="#111" stroke-width="1.1"/>
<text x="456.60" y="229.10" font-size="5.8" text-anchor="middle" fill="#2a2a2a">p=0.069</text>
<rect x="377.20" y="335.10" width="104.40" height="20.20" fill="none" stroke="#111" stroke-width="1.25"/>
<line x1="377.20" y1="345.80" x2="481.60" y2="345.80" stroke="#111" stroke-width="1.25"/>
<line x1="403.20" y1="335.10" x2="403.20" y2="355.30" stroke="#111" stroke-width="1.25"/>
<line x1="429.10" y1="335.10" x2="429.10" y2="355.30" stroke="#111" stroke-width="1.25"/>
<line x1="455.10" y1="335.10" x2="455.10" y2="355.30" stroke="#111" stroke-width="1.25"/>
<text x="390.20" y="342.75" font-size="6.4" text-anchor="middle" fill="#2a2a2a">WT</text>
<text x="390.20" y="352.85" font-size="6.4" text-anchor="middle" fill="#2a2a2a">WT</text>
<text x="413.75" y="342.75" font-size="6.5" text-anchor="middle" fill="#2a2a2a" textLength="18.2" lengthAdjust="spacingAndGlyphs">PON2</text>
<text x="423.05" y="339.45" font-size="4.0" text-anchor="start" fill="#2a2a2a">-/-</text>
<text x="413.75" y="352.85" font-size="6.5" text-anchor="middle" fill="#2a2a2a" textLength="18.2" lengthAdjust="spacingAndGlyphs">PON2</text>
<text x="423.05" y="349.55" font-size="4.0" text-anchor="start" fill="#2a2a2a">-/-</text>
<text x="442.10" y="342.75" font-size="6.4" text-anchor="middle" fill="#2a2a2a">WT</text>
<text x="439.70" y="352.85" font-size="6.5" text-anchor="middle" fill="#2a2a2a" textLength="18.2" lengthAdjust="spacingAndGlyphs">PON2</text>
<text x="449.00" y="349.55" font-size="4.0" text-anchor="start" fill="#2a2a2a">-/-</text>
<text x="465.95" y="342.75" font-size="6.5" text-anchor="middle" fill="#2a2a2a" textLength="18.2" lengthAdjust="spacingAndGlyphs">PON2</text>
<text x="475.25" y="339.45" font-size="4.0" text-anchor="start" fill="#2a2a2a">-/-</text>
<text x="468.35" y="352.85" font-size="6.4" text-anchor="middle" fill="#2a2a2a">WT</text>
<text x="484.80" y="342.75" font-size="6.5" text-anchor="start" fill="#2a2a2a" textLength="28.2" lengthAdjust="spacingAndGlyphs">Recipient</text>
<text x="484.80" y="352.85" font-size="6.5" text-anchor="start" fill="#2a2a2a" textLength="19.2" lengthAdjust="spacingAndGlyphs">Donor</text>
<line x1="126.60" y1="380.10" x2="126.60" y2="464.20" stroke="#111" stroke-width="1.3"/>
<line x1="123.70" y1="450.40" x2="126.60" y2="450.40" stroke="#111" stroke-width="1.0"/>
<line x1="123.70" y1="423.50" x2="126.60" y2="423.50" stroke="#111" stroke-width="1.0"/>
<line x1="123.70" y1="396.60" x2="126.60" y2="396.60" stroke="#111" stroke-width="1.0"/>
<line x1="125.20" y1="437.00" x2="126.60" y2="437.00" stroke="#111" stroke-width="0.9"/>
<line x1="125.20" y1="410.20" x2="126.60" y2="410.20" stroke="#111" stroke-width="0.9"/>
<line x1="125.20" y1="383.40" x2="126.60" y2="383.40" stroke="#111" stroke-width="0.9"/>
<text x="120.30" y="452.35" font-size="6.0" text-anchor="end" fill="#2a2a2a" textLength="6.35" lengthAdjust="spacingAndGlyphs" class="lt">10</text>
<text x="120.30" y="425.45" font-size="6.0" text-anchor="end" fill="#2a2a2a" textLength="5.1" lengthAdjust="spacingAndGlyphs" class="lt">11</text>
<text x="120.30" y="398.55" font-size="6.0" text-anchor="end" fill="#2a2a2a" textLength="6.35" lengthAdjust="spacingAndGlyphs" class="lt">12</text>
<line x1="126.60" y1="463.60" x2="227.00" y2="463.60" stroke="#111" stroke-width="1.3"/>
<text x="105.60" y="421.30" font-size="7.1" text-anchor="middle" fill="#2a2a2a" transform="rotate(-90 105.60 421.30)" textLength="22" lengthAdjust="spacingAndGlyphs" class="lt">PT (sec)</text>
<path d="M175.50 387.80V385.60H209.00V387.80" fill="none" stroke="#111" stroke-width="1.1"/>
<text x="192.25" y="383.50" font-size="5.0" text-anchor="middle" fill="#2a2a2a">n.s.</text>
<text x="143.00" y="473.30" font-size="6.5" text-anchor="middle" fill="#2a2a2a" textLength="9.8" lengthAdjust="spacingAndGlyphs">WT</text>
<text x="165.10" y="473.30" font-size="6.5" text-anchor="start" fill="#2a2a2a" textLength="17.8" lengthAdjust="spacingAndGlyphs">PON2</text>
<text x="183.20" y="469.90" font-size="4.0" text-anchor="start" fill="#2a2a2a">-/-</text>
<text x="199.00" y="473.30" font-size="6.5" text-anchor="start" fill="#2a2a2a" textLength="17.6" lengthAdjust="spacingAndGlyphs">PON2</text>
<text x="216.80" y="469.90" font-size="4.0" text-anchor="start" fill="#2a2a2a">-/-</text>
<text x="193.60" y="480.80" font-size="6.4" text-anchor="start" fill="#2a2a2a" textLength="32.4" lengthAdjust="spacingAndGlyphs">PAR2-G37i</text>
<line x1="269.60" y1="381.50" x2="269.60" y2="464.20" stroke="#111" stroke-width="1.3"/>
<line x1="266.70" y1="454.30" x2="269.60" y2="454.30" stroke="#111" stroke-width="1.0"/>
<line x1="266.70" y1="434.40" x2="269.60" y2="434.40" stroke="#111" stroke-width="1.0"/>
<line x1="266.70" y1="414.50" x2="269.60" y2="414.50" stroke="#111" stroke-width="1.0"/>
<line x1="266.70" y1="394.60" x2="269.60" y2="394.60" stroke="#111" stroke-width="1.0"/>
<line x1="268.20" y1="444.35" x2="269.60" y2="444.35" stroke="#111" stroke-width="0.9"/>
<line x1="268.20" y1="424.45" x2="269.60" y2="424.45" stroke="#111" stroke-width="0.9"/>
<line x1="268.20" y1="404.55" x2="269.60" y2="404.55" stroke="#111" stroke-width="0.9"/>
<line x1="268.20" y1="384.65" x2="269.60" y2="384.65" stroke="#111" stroke-width="0.9"/>
<text x="263.30" y="456.25" font-size="6.0" text-anchor="end" fill="#2a2a2a" textLength="7.6" lengthAdjust="spacingAndGlyphs" class="lt">20</text>
<text x="263.30" y="436.35" font-size="6.0" text-anchor="end" fill="#2a2a2a" textLength="7.6" lengthAdjust="spacingAndGlyphs" class="lt">25</text>
<text x="263.30" y="416.45" font-size="6.0" text-anchor="end" fill="#2a2a2a" textLength="7.6" lengthAdjust="spacingAndGlyphs" class="lt">30</text>
<text x="263.30" y="396.55" font-size="6.0" text-anchor="end" fill="#2a2a2a" textLength="7.6" lengthAdjust="spacingAndGlyphs" class="lt">35</text>
<line x1="269.60" y1="463.60" x2="370.40" y2="463.60" stroke="#111" stroke-width="1.3"/>
<text x="248.90" y="422.60" font-size="7.1" text-anchor="middle" fill="#2a2a2a" transform="rotate(-90 248.90 422.60)" textLength="29.6" lengthAdjust="spacingAndGlyphs" class="lt">aPTT (sec)</text>
<path d="M322.80 389.10V386.90H355.60V389.10" fill="none" stroke="#111" stroke-width="1.1"/>
<text x="339.20" y="384.50" font-size="5.0" text-anchor="middle" fill="#2a2a2a">n.s.</text>
<text x="286.50" y="473.30" font-size="6.5" text-anchor="middle" fill="#2a2a2a" textLength="9.6" lengthAdjust="spacingAndGlyphs">WT</text>
<text x="309.70" y="473.30" font-size="6.5" text-anchor="start" fill="#2a2a2a" textLength="17.6" lengthAdjust="spacingAndGlyphs">PON2</text>
<text x="327.60" y="469.90" font-size="4.0" text-anchor="start" fill="#2a2a2a">-/-</text>
<text x="345.00" y="473.30" font-size="6.5" text-anchor="start" fill="#2a2a2a" textLength="17.6" lengthAdjust="spacingAndGlyphs">PON2</text>
<text x="362.90" y="469.90" font-size="4.0" text-anchor="start" fill="#2a2a2a">-/-</text>
<text x="339.70" y="480.80" font-size="6.4" text-anchor="start" fill="#2a2a2a" textLength="32.3" lengthAdjust="spacingAndGlyphs">PAR2-G37i</text>
<circle cx="47.90" cy="69.90" r="1.25" fill="#4e0a22"/>
<circle cx="44.10" cy="84.20" r="1.25" fill="#4e0a22"/>
<circle cx="47.90" cy="86.80" r="1.25" fill="#4e0a22"/>
<circle cx="51.80" cy="86.80" r="1.25" fill="#4e0a22"/>
<circle cx="47.90" cy="90.80" r="1.25" fill="#4e0a22"/>
<circle cx="49.80" cy="98.30" r="1.25" fill="#4e0a22"/>
<circle cx="45.90" cy="99.90" r="1.25" fill="#4e0a22"/>
<circle cx="40.20" cy="100.80" r="1.25" fill="#4e0a22"/>
<circle cx="51.70" cy="101.10" r="1.25" fill="#4e0a22"/>
<circle cx="55.40" cy="101.10" r="1.25" fill="#4e0a22"/>
<circle cx="44.10" cy="103.60" r="1.25" fill="#4e0a22"/>
<circle cx="48.00" cy="103.60" r="1.25" fill="#4e0a22"/>
<circle cx="51.70" cy="108.90" r="1.25" fill="#4e0a22"/>
<circle cx="44.10" cy="108.90" r="1.25" fill="#4e0a22"/>
<circle cx="44.10" cy="111.70" r="1.25" fill="#4e0a22"/>
<circle cx="48.00" cy="111.70" r="1.25" fill="#4e0a22"/>
<circle cx="53.50" cy="112.80" r="1.25" fill="#4e0a22"/>
<circle cx="42.00" cy="113.80" r="1.25" fill="#4e0a22"/>
<circle cx="45.90" cy="115.20" r="1.25" fill="#4e0a22"/>
<circle cx="49.80" cy="115.20" r="1.25" fill="#4e0a22"/>
<circle cx="45.80" cy="117.00" r="1.25" fill="#4e0a22"/>
<circle cx="50.00" cy="117.00" r="1.25" fill="#4e0a22"/>
<circle cx="40.10" cy="118.30" r="1.25" fill="#4e0a22"/>
<circle cx="44.20" cy="119.10" r="1.25" fill="#4e0a22"/>
<circle cx="47.90" cy="119.10" r="1.25" fill="#4e0a22"/>
<circle cx="51.50" cy="119.10" r="1.25" fill="#4e0a22"/>
<circle cx="55.50" cy="118.30" r="1.25" fill="#4e0a22"/>
<circle cx="47.90" cy="124.40" r="1.25" fill="#4e0a22"/>
<line x1="38.10" y1="106.50" x2="57.90" y2="106.50" stroke="#111" stroke-width="1.5"/>
<line x1="48.00" y1="104.30" x2="48.00" y2="108.40" stroke="#111" stroke-width="1.2"/>
<line x1="43.40" y1="104.30" x2="52.60" y2="104.30" stroke="#111" stroke-width="1.25"/>
<line x1="43.40" y1="108.40" x2="52.60" y2="108.40" stroke="#111" stroke-width="1.25"/>
<path d="M75.50 83.30L76.70 85.46L74.30 85.46Z" fill="#68765a"/>
<path d="M75.50 92.30L76.70 94.46L74.30 94.46Z" fill="#68765a"/>
<path d="M73.60 96.60L74.80 98.76L72.40 98.76Z" fill="#68765a"/>
<path d="M77.70 96.60L78.90 98.76L76.50 98.76Z" fill="#68765a"/>
<path d="M71.60 101.30L72.80 103.46L70.40 103.46Z" fill="#68765a"/>
<path d="M75.50 100.70L76.70 102.86L74.30 102.86Z" fill="#68765a"/>
<path d="M79.40 101.30L80.60 103.46L78.20 103.46Z" fill="#68765a"/>
<path d="M73.80 103.00L75.00 105.16L72.60 105.16Z" fill="#68765a"/>
<path d="M81.70 109.40L82.90 111.56L80.50 111.56Z" fill="#68765a"/>
<path d="M69.90 111.90L71.10 114.06L68.70 114.06Z" fill="#68765a"/>
<path d="M73.60 111.90L74.80 114.06L72.40 114.06Z" fill="#68765a"/>
<path d="M77.70 111.90L78.90 114.06L76.50 114.06Z" fill="#68765a"/>
<path d="M75.50 115.90L76.70 118.06L74.30 118.06Z" fill="#68765a"/>
<path d="M75.50 128.80L76.70 130.96L74.30 130.96Z" fill="#68765a"/>
<line x1="65.70" y1="106.10" x2="85.50" y2="106.10" stroke="#111" stroke-width="1.5"/>
<line x1="75.60" y1="103.00" x2="75.60" y2="109.40" stroke="#111" stroke-width="1.2"/>
<line x1="71.10" y1="103.00" x2="80.10" y2="103.00" stroke="#111" stroke-width="1.25"/>
<line x1="71.10" y1="109.40" x2="80.10" y2="109.40" stroke="#111" stroke-width="1.25"/>
<path d="M103.30 107.57L104.73 109.00L103.30 110.43L101.87 109.00Z" fill="#15244a"/>
<path d="M95.40 112.37L96.83 113.80L95.40 115.23L93.97 113.80Z" fill="#15244a"/>
<path d="M99.40 112.37L100.83 113.80L99.40 115.23L97.97 113.80Z" fill="#15244a"/>
<path d="M106.70 112.37L108.13 113.80L106.70 115.23L105.27 113.80Z" fill="#15244a"/>
<path d="M110.90 111.47L112.33 112.90L110.90 114.33L109.47 112.90Z" fill="#15244a"/>
<path d="M103.30 113.87L104.73 115.30L103.30 116.73L101.87 115.30Z" fill="#15244a"/>
<path d="M95.70 116.37L97.13 117.80L95.70 119.23L94.27 117.80Z" fill="#15244a"/>
<path d="M100.00 116.87L101.43 118.30L100.00 119.73L98.57 118.30Z" fill="#15244a"/>
<path d="M103.30 117.07L104.73 118.50L103.30 119.93L101.87 118.50Z" fill="#15244a"/>
<path d="M106.50 116.87L107.93 118.30L106.50 119.73L105.07 118.30Z" fill="#15244a"/>
<path d="M98.50 119.07L99.93 120.50L98.50 121.93L97.07 120.50Z" fill="#15244a"/>
<path d="M101.50 119.07L102.93 120.50L101.50 121.93L100.07 120.50Z" fill="#15244a"/>
<path d="M104.50 119.07L105.93 120.50L104.50 121.93L103.07 120.50Z" fill="#15244a"/>
<path d="M107.50 119.07L108.93 120.50L107.50 121.93L106.07 120.50Z" fill="#15244a"/>
<path d="M95.40 120.27L96.83 121.70L95.40 123.13L93.97 121.70Z" fill="#15244a"/>
<path d="M111.10 117.77L112.53 119.20L111.10 120.63L109.67 119.20Z" fill="#15244a"/>
<path d="M100.00 121.07L101.43 122.50L100.00 123.93L98.57 122.50Z" fill="#15244a"/>
<path d="M103.30 121.07L104.73 122.50L103.30 123.93L101.87 122.50Z" fill="#15244a"/>
<path d="M106.50 121.07L107.93 122.50L106.50 123.93L105.07 122.50Z" fill="#15244a"/>
<path d="M99.40 122.67L100.83 124.10L99.40 125.53L97.97 124.10Z" fill="#15244a"/>
<path d="M103.30 122.77L104.73 124.20L103.30 125.63L101.87 124.20Z" fill="#15244a"/>
<path d="M106.70 122.07L108.13 123.50L106.70 124.93L105.27 123.50Z" fill="#15244a"/>
<path d="M103.30 125.67L104.73 127.10L103.30 128.53L101.87 127.10Z" fill="#15244a"/>
<path d="M106.70 124.67L108.13 126.10L106.70 127.53L105.27 126.10Z" fill="#15244a"/>
<path d="M103.10 133.77L104.53 135.20L103.10 136.63L101.67 135.20Z" fill="#15244a"/>
<path d="M103.10 139.27L104.53 140.70L103.10 142.13L101.67 140.70Z" fill="#15244a"/>
<line x1="93.60" y1="120.40" x2="112.60" y2="120.40" stroke="#111" stroke-width="1.5"/>
<line x1="103.10" y1="118.80" x2="103.10" y2="122.00" stroke="#111" stroke-width="1.2"/>
<line x1="98.70" y1="118.80" x2="107.50" y2="118.80" stroke="#111" stroke-width="1.25"/>
<line x1="98.70" y1="122.00" x2="107.50" y2="122.00" stroke="#111" stroke-width="1.25"/>
<path d="M130.90 63.44L132.24 61.02L129.56 61.02Z" fill="#1e1e1e"/>
<path d="M130.90 69.24L132.24 66.82L129.56 66.82Z" fill="#1e1e1e"/>
<path d="M130.90 73.44L132.24 71.02L129.56 71.02Z" fill="#1e1e1e"/>
<path d="M133.00 91.04L134.34 88.62L131.66 88.62Z" fill="#1e1e1e"/>
<path d="M129.10 94.24L130.44 91.82L127.76 91.82Z" fill="#1e1e1e"/>
<path d="M127.20 102.84L128.54 100.42L125.86 100.42Z" fill="#1e1e1e"/>
<path d="M134.90 102.84L136.24 100.42L133.56 100.42Z" fill="#1e1e1e"/>
<path d="M131.10 112.54L132.44 110.12L129.76 110.12Z" fill="#1e1e1e"/>
<path d="M129.10 116.44L130.44 114.02L127.76 114.02Z" fill="#1e1e1e"/>
<path d="M132.80 117.44L134.14 115.02L131.46 115.02Z" fill="#1e1e1e"/>
<path d="M127.20 119.54L128.54 117.12L125.86 117.12Z" fill="#1e1e1e"/>
<path d="M134.90 120.24L136.24 117.82L133.56 117.82Z" fill="#1e1e1e"/>
<path d="M130.80 121.74L132.14 119.32L129.46 119.32Z" fill="#1e1e1e"/>
<path d="M130.80 126.64L132.14 124.22L129.46 124.22Z" fill="#1e1e1e"/>
<path d="M130.80 130.94L132.14 128.52L129.46 128.52Z" fill="#1e1e1e"/>
<line x1="121.40" y1="103.60" x2="140.60" y2="103.60" stroke="#111" stroke-width="1.5"/>
<line x1="131.00" y1="100.40" x2="131.00" y2="107.80" stroke="#111" stroke-width="1.2"/>
<line x1="126.40" y1="100.40" x2="135.60" y2="100.40" stroke="#111" stroke-width="1.25"/>
<line x1="126.40" y1="107.80" x2="135.60" y2="107.80" stroke="#111" stroke-width="1.25"/>
<circle cx="213.60" cy="91.60" r="1.25" fill="#4e0a22"/>
<circle cx="217.60" cy="93.20" r="1.25" fill="#4e0a22"/>
<circle cx="221.30" cy="93.20" r="1.25" fill="#4e0a22"/>
<circle cx="217.60" cy="103.60" r="1.25" fill="#4e0a22"/>
<circle cx="212.00" cy="109.50" r="1.25" fill="#4e0a22"/>
<circle cx="216.30" cy="108.90" r="1.25" fill="#4e0a22"/>
<circle cx="219.60" cy="108.90" r="1.25" fill="#4e0a22"/>
<circle cx="223.20" cy="110.90" r="1.25" fill="#4e0a22"/>
<circle cx="215.00" cy="111.50" r="1.25" fill="#4e0a22"/>
<circle cx="220.30" cy="111.50" r="1.25" fill="#4e0a22"/>
<circle cx="215.00" cy="116.80" r="1.25" fill="#4e0a22"/>
<circle cx="219.60" cy="116.80" r="1.25" fill="#4e0a22"/>
<circle cx="211.60" cy="121.50" r="1.25" fill="#4e0a22"/>
<circle cx="215.60" cy="122.80" r="1.25" fill="#4e0a22"/>
<circle cx="219.60" cy="122.80" r="1.25" fill="#4e0a22"/>
<circle cx="223.20" cy="122.80" r="1.25" fill="#4e0a22"/>
<circle cx="212.00" cy="127.20" r="1.25" fill="#4e0a22"/>
<circle cx="215.60" cy="128.10" r="1.25" fill="#4e0a22"/>
<circle cx="217.60" cy="126.80" r="1.25" fill="#4e0a22"/>
<circle cx="219.60" cy="130.80" r="1.25" fill="#4e0a22"/>
<circle cx="223.20" cy="128.10" r="1.25" fill="#4e0a22"/>
<circle cx="217.60" cy="139.10" r="1.25" fill="#4e0a22"/>
<line x1="208.30" y1="115.20" x2="227.70" y2="115.20" stroke="#111" stroke-width="1.5"/>
<line x1="218.00" y1="112.60" x2="218.00" y2="117.60" stroke="#111" stroke-width="1.2"/>
<line x1="213.50" y1="112.60" x2="222.50" y2="112.60" stroke="#111" stroke-width="1.25"/>
<line x1="213.50" y1="117.60" x2="222.50" y2="117.60" stroke="#111" stroke-width="1.25"/>
<path d="M245.70 88.80L246.90 90.96L244.50 90.96Z" fill="#68765a"/>
<path d="M245.70 96.80L246.90 98.96L244.50 98.96Z" fill="#68765a"/>
<path d="M245.70 107.40L246.90 109.56L244.50 109.56Z" fill="#68765a"/>
<path d="M238.00 115.60L239.20 117.76L236.80 117.76Z" fill="#68765a"/>
<path d="M241.70 127.30L242.90 129.46L240.50 129.46Z" fill="#68765a"/>
<path d="M245.70 130.50L246.90 132.66L244.50 132.66Z" fill="#68765a"/>
<path d="M249.60 128.90L250.80 131.06L248.40 131.06Z" fill="#68765a"/>
<line x1="236.00" y1="115.50" x2="255.20" y2="115.50" stroke="#111" stroke-width="1.5"/>
<line x1="245.60" y1="112.60" x2="245.60" y2="119.20" stroke="#111" stroke-width="1.2"/>
<line x1="240.60" y1="112.60" x2="250.60" y2="112.60" stroke="#111" stroke-width="1.25"/>
<line x1="240.60" y1="119.20" x2="250.60" y2="119.20" stroke="#111" stroke-width="1.25"/>
<path d="M273.60 91.27L275.03 92.70L273.60 94.13L272.17 92.70Z" fill="#15244a"/>
<path d="M273.60 113.37L275.03 114.80L273.60 116.23L272.17 114.80Z" fill="#15244a"/>
<path d="M271.60 122.07L273.03 123.50L271.60 124.93L270.17 123.50Z" fill="#15244a"/>
<path d="M274.90 122.07L276.33 123.50L274.90 124.93L273.47 123.50Z" fill="#15244a"/>
<path d="M266.30 124.67L267.73 126.10L266.30 127.53L264.87 126.10Z" fill="#15244a"/>
<path d="M269.00 124.67L270.43 126.10L269.00 127.53L267.57 126.10Z" fill="#15244a"/>
<path d="M276.90 124.67L278.33 126.10L276.90 127.53L275.47 126.10Z" fill="#15244a"/>
<path d="M280.20 124.67L281.63 126.10L280.20 127.53L278.77 126.10Z" fill="#15244a"/>
<path d="M266.30 128.67L267.73 130.10L266.30 131.53L264.87 130.10Z" fill="#15244a"/>
<path d="M280.90 129.07L282.33 130.50L280.90 131.93L279.47 130.50Z" fill="#15244a"/>
<path d="M270.50 128.07L271.93 129.50L270.50 130.93L269.07 129.50Z" fill="#15244a"/>
<path d="M277.50 128.07L278.93 129.50L277.50 130.93L276.07 129.50Z" fill="#15244a"/>
<path d="M265.60 133.97L267.03 135.40L265.60 136.83L264.17 135.40Z" fill="#15244a"/>
<path d="M269.60 134.67L271.03 136.10L269.60 137.53L268.17 136.10Z" fill="#15244a"/>
<path d="M272.90 132.67L274.33 134.10L272.90 135.53L271.47 134.10Z" fill="#15244a"/>
<path d="M274.30 133.97L275.73 135.40L274.30 136.83L272.87 135.40Z" fill="#15244a"/>
<path d="M277.60 135.97L279.03 137.40L277.60 138.83L276.17 137.40Z" fill="#15244a"/>
<path d="M280.90 134.67L282.33 136.10L280.90 137.53L279.47 136.10Z" fill="#15244a"/>
<path d="M271.00 134.67L272.43 136.10L271.00 137.53L269.57 136.10Z" fill="#15244a"/>
<path d="M275.60 135.97L277.03 137.40L275.60 138.83L274.17 137.40Z" fill="#15244a"/>
<path d="M268.00 126.67L269.43 128.10L268.00 129.53L266.57 128.10Z" fill="#15244a"/>
<path d="M272.00 126.67L273.43 128.10L272.00 129.53L270.57 128.10Z" fill="#15244a"/>
<path d="M275.50 126.67L276.93 128.10L275.50 129.53L274.07 128.10Z" fill="#15244a"/>
<path d="M279.00 126.67L280.43 128.10L279.00 129.53L277.57 128.10Z" fill="#15244a"/>
<path d="M270.00 131.07L271.43 132.50L270.00 133.93L268.57 132.50Z" fill="#15244a"/>
<path d="M273.60 130.57L275.03 132.00L273.60 133.43L272.17 132.00Z" fill="#15244a"/>
<path d="M277.50 131.07L278.93 132.50L277.50 133.93L276.07 132.50Z" fill="#15244a"/>
<path d="M267.50 131.57L268.93 133.00L267.50 134.43L266.07 133.00Z" fill="#15244a"/>
<path d="M280.00 131.57L281.43 133.00L280.00 134.43L278.57 133.00Z" fill="#15244a"/>
<line x1="264.30" y1="128.10" x2="282.90" y2="128.10" stroke="#111" stroke-width="1.5"/>
<line x1="273.60" y1="126.40" x2="273.60" y2="129.80" stroke="#111" stroke-width="1.2"/>
<line x1="269.20" y1="126.40" x2="278.00" y2="126.40" stroke="#111" stroke-width="1.25"/>
<line x1="269.20" y1="129.80" x2="278.00" y2="129.80" stroke="#111" stroke-width="1.25"/>
<path d="M301.90 56.44L303.24 54.02L300.56 54.02Z" fill="#1e1e1e"/>
<path d="M301.90 73.44L303.24 71.02L300.56 71.02Z" fill="#1e1e1e"/>
<path d="M301.90 87.14L303.24 84.72L300.56 84.72Z" fill="#1e1e1e"/>
<path d="M299.80 98.34L301.14 95.92L298.46 95.92Z" fill="#1e1e1e"/>
<path d="M302.70 101.34L304.04 98.92L301.36 98.92Z" fill="#1e1e1e"/>
<path d="M302.30 106.04L303.64 103.62L300.96 103.62Z" fill="#1e1e1e"/>
<path d="M296.20 122.44L297.54 120.02L294.86 120.02Z" fill="#1e1e1e"/>
<path d="M299.20 122.44L300.54 120.02L297.86 120.02Z" fill="#1e1e1e"/>
<path d="M301.90 122.44L303.24 120.02L300.56 120.02Z" fill="#1e1e1e"/>
<path d="M304.30 122.44L305.64 120.02L302.96 120.02Z" fill="#1e1e1e"/>
<path d="M295.80 130.94L297.14 128.52L294.46 128.52Z" fill="#1e1e1e"/>
<path d="M299.20 133.04L300.54 130.62L297.86 130.62Z" fill="#1e1e1e"/>
<path d="M303.90 134.04L305.24 131.62L302.56 131.62Z" fill="#1e1e1e"/>
<path d="M307.40 133.04L308.74 130.62L306.06 130.62Z" fill="#1e1e1e"/>
<path d="M302.30 139.14L303.64 136.72L300.96 136.72Z" fill="#1e1e1e"/>
<path d="M299.20 142.24L300.54 139.82L297.86 139.82Z" fill="#1e1e1e"/>
<line x1="291.70" y1="113.30" x2="310.50" y2="113.30" stroke="#111" stroke-width="1.5"/>
<line x1="301.10" y1="107.20" x2="301.10" y2="119.40" stroke="#111" stroke-width="1.2"/>
<line x1="296.30" y1="107.20" x2="305.90" y2="107.20" stroke="#111" stroke-width="1.25"/>
<line x1="296.30" y1="119.40" x2="305.90" y2="119.40" stroke="#111" stroke-width="1.25"/>
<circle cx="388.60" cy="68.20" r="1.25" fill="#4e0a22"/>
<circle cx="393.30" cy="68.20" r="1.25" fill="#4e0a22"/>
<circle cx="390.20" cy="98.50" r="1.25" fill="#4e0a22"/>
<circle cx="392.70" cy="97.30" r="1.25" fill="#4e0a22"/>
<circle cx="390.90" cy="111.80" r="1.25" fill="#4e0a22"/>
<circle cx="392.80" cy="115.60" r="1.25" fill="#4e0a22"/>
<circle cx="388.90" cy="117.70" r="1.25" fill="#4e0a22"/>
<circle cx="398.70" cy="120.10" r="1.25" fill="#4e0a22"/>
<circle cx="385.30" cy="123.60" r="1.25" fill="#4e0a22"/>
<circle cx="388.90" cy="123.00" r="1.25" fill="#4e0a22"/>
<circle cx="391.80" cy="123.00" r="1.25" fill="#4e0a22"/>
<circle cx="394.80" cy="123.00" r="1.25" fill="#4e0a22"/>
<circle cx="383.30" cy="131.00" r="1.25" fill="#4e0a22"/>
<circle cx="387.10" cy="132.20" r="1.25" fill="#4e0a22"/>
<circle cx="390.90" cy="133.10" r="1.25" fill="#4e0a22"/>
<circle cx="394.80" cy="132.20" r="1.25" fill="#4e0a22"/>
<circle cx="398.70" cy="131.00" r="1.25" fill="#4e0a22"/>
<circle cx="385.00" cy="138.10" r="1.25" fill="#4e0a22"/>
<circle cx="388.90" cy="139.00" r="1.25" fill="#4e0a22"/>
<circle cx="390.90" cy="137.80" r="1.25" fill="#4e0a22"/>
<circle cx="392.80" cy="139.00" r="1.25" fill="#4e0a22"/>
<circle cx="396.50" cy="138.10" r="1.25" fill="#4e0a22"/>
<circle cx="388.90" cy="140.80" r="1.25" fill="#4e0a22"/>
<circle cx="392.80" cy="140.80" r="1.25" fill="#4e0a22"/>
<circle cx="390.90" cy="141.00" r="1.25" fill="#4e0a22"/>
<circle cx="389.20" cy="153.00" r="1.25" fill="#4e0a22"/>
<circle cx="392.40" cy="153.00" r="1.25" fill="#4e0a22"/>
<line x1="380.90" y1="125.60" x2="400.30" y2="125.60" stroke="#111" stroke-width="1.5"/>
<line x1="390.60" y1="123.00" x2="390.60" y2="129.50" stroke="#111" stroke-width="1.2"/>
<line x1="385.60" y1="123.00" x2="395.60" y2="123.00" stroke="#111" stroke-width="1.25"/>
<line x1="385.60" y1="129.50" x2="395.60" y2="129.50" stroke="#111" stroke-width="1.25"/>
<path d="M418.90 101.30L420.10 103.46L417.70 103.46Z" fill="#68765a"/>
<path d="M418.90 108.60L420.10 110.76L417.70 110.76Z" fill="#68765a"/>
<path d="M415.30 118.20L416.50 120.36L414.10 120.36Z" fill="#68765a"/>
<path d="M422.70 117.60L423.90 119.76L421.50 119.76Z" fill="#68765a"/>
<path d="M418.90 121.40L420.10 123.56L417.70 123.56Z" fill="#68765a"/>
<path d="M411.40 133.90L412.60 136.06L410.20 136.06Z" fill="#68765a"/>
<path d="M415.30 133.90L416.50 136.06L414.10 136.06Z" fill="#68765a"/>
<path d="M418.90 134.30L420.10 136.46L417.70 136.46Z" fill="#68765a"/>
<path d="M422.70 133.90L423.90 136.06L421.50 136.06Z" fill="#68765a"/>
<path d="M426.60 133.90L427.80 136.06L425.40 136.06Z" fill="#68765a"/>
<path d="M418.90 137.50L420.10 139.66L417.70 139.66Z" fill="#68765a"/>
<path d="M415.30 147.80L416.50 149.96L414.10 149.96Z" fill="#68765a"/>
<path d="M418.90 150.10L420.10 152.26L417.70 152.26Z" fill="#68765a"/>
<path d="M422.70 147.80L423.90 149.96L421.50 149.96Z" fill="#68765a"/>
<line x1="409.20" y1="130.70" x2="428.80" y2="130.70" stroke="#111" stroke-width="1.5"/>
<line x1="419.00" y1="127.10" x2="419.00" y2="133.60" stroke="#111" stroke-width="1.2"/>
<line x1="414.00" y1="127.10" x2="424.00" y2="127.10" stroke="#111" stroke-width="1.25"/>
<line x1="414.00" y1="133.60" x2="424.00" y2="133.60" stroke="#111" stroke-width="1.25"/>
<path d="M447.20 126.67L448.63 128.10L447.20 129.53L445.77 128.10Z" fill="#15244a"/>
<path d="M445.30 129.17L446.73 130.60L445.30 132.03L443.87 130.60Z" fill="#15244a"/>
<path d="M448.70 129.67L450.13 131.10L448.70 132.53L447.27 131.10Z" fill="#15244a"/>
<path d="M440.80 132.57L442.23 134.00L440.80 135.43L439.37 134.00Z" fill="#15244a"/>
<path d="M444.80 132.07L446.23 133.50L444.80 134.93L443.37 133.50Z" fill="#15244a"/>
<path d="M449.20 131.87L450.63 133.30L449.20 134.73L447.77 133.30Z" fill="#15244a"/>
<path d="M452.60 132.07L454.03 133.50L452.60 134.93L451.17 133.50Z" fill="#15244a"/>
<path d="M442.80 134.57L444.23 136.00L442.80 137.43L441.37 136.00Z" fill="#15244a"/>
<path d="M446.70 134.57L448.13 136.00L446.70 137.43L445.27 136.00Z" fill="#15244a"/>
<path d="M450.60 135.07L452.03 136.50L450.60 137.93L449.17 136.50Z" fill="#15244a"/>
<path d="M442.80 136.97L444.23 138.40L442.80 139.83L441.37 138.40Z" fill="#15244a"/>
<path d="M451.60 137.47L453.03 138.90L451.60 140.33L450.17 138.90Z" fill="#15244a"/>
<path d="M444.80 140.97L446.23 142.40L444.80 143.83L443.37 142.40Z" fill="#15244a"/>
<path d="M447.70 140.57L449.13 142.00L447.70 143.43L446.27 142.00Z" fill="#15244a"/>
<path d="M450.20 140.97L451.63 142.40L450.20 143.83L448.77 142.40Z" fill="#15244a"/>
<path d="M441.30 145.87L442.73 147.30L441.30 148.73L439.87 147.30Z" fill="#15244a"/>
<path d="M444.80 144.87L446.23 146.30L444.80 147.73L443.37 146.30Z" fill="#15244a"/>
<path d="M452.60 146.77L454.03 148.20L452.60 149.63L451.17 148.20Z" fill="#15244a"/>
<path d="M439.40 150.77L440.83 152.20L439.40 153.63L437.97 152.20Z" fill="#15244a"/>
<path d="M442.80 149.77L444.23 151.20L442.80 152.63L441.37 151.20Z" fill="#15244a"/>
<path d="M445.70 148.77L447.13 150.20L445.70 151.63L444.27 150.20Z" fill="#15244a"/>
<path d="M448.70 149.27L450.13 150.70L448.70 152.13L447.27 150.70Z" fill="#15244a"/>
<path d="M450.20 147.77L451.63 149.20L450.20 150.63L448.77 149.20Z" fill="#15244a"/>
<path d="M454.10 150.77L455.53 152.20L454.10 153.63L452.67 152.20Z" fill="#15244a"/>
<path d="M443.80 151.67L445.23 153.10L443.80 154.53L442.37 153.10Z" fill="#15244a"/>
<path d="M446.70 153.17L448.13 154.60L446.70 156.03L445.27 154.60Z" fill="#15244a"/>
<path d="M450.20 153.17L451.63 154.60L450.20 156.03L448.77 154.60Z" fill="#15244a"/>
<line x1="437.40" y1="143.10" x2="456.60" y2="143.10" stroke="#111" stroke-width="1.5"/>
<line x1="447.00" y1="140.90" x2="447.00" y2="145.30" stroke="#111" stroke-width="1.2"/>
<line x1="442.40" y1="140.90" x2="451.60" y2="140.90" stroke="#111" stroke-width="1.25"/>
<line x1="442.40" y1="145.30" x2="451.60" y2="145.30" stroke="#111" stroke-width="1.25"/>
<path d="M474.70 56.74L476.04 54.32L473.36 54.32Z" fill="#1e1e1e"/>
<path d="M474.70 75.34L476.04 72.92L473.36 72.92Z" fill="#1e1e1e"/>
<path d="M474.70 100.14L476.04 97.72L473.36 97.72Z" fill="#1e1e1e"/>
<path d="M474.70 117.84L476.04 115.42L473.36 115.42Z" fill="#1e1e1e"/>
<path d="M473.00 124.14L474.34 121.72L471.66 121.72Z" fill="#1e1e1e"/>
<path d="M474.70 131.04L476.04 128.62L473.36 128.62Z" fill="#1e1e1e"/>
<path d="M468.00 141.64L469.34 139.22L466.66 139.22Z" fill="#1e1e1e"/>
<path d="M471.60 143.74L472.94 141.32L470.26 141.32Z" fill="#1e1e1e"/>
<path d="M475.20 144.34L476.54 141.92L473.86 141.92Z" fill="#1e1e1e"/>
<path d="M478.90 144.34L480.24 141.92L477.56 141.92Z" fill="#1e1e1e"/>
<path d="M482.70 142.24L484.04 139.82L481.36 139.82Z" fill="#1e1e1e"/>
<path d="M471.60 148.94L472.94 146.52L470.26 146.52Z" fill="#1e1e1e"/>
<path d="M478.50 150.04L479.84 147.62L477.16 147.62Z" fill="#1e1e1e"/>
<path d="M475.20 153.64L476.54 151.22L473.86 151.22Z" fill="#1e1e1e"/>
<line x1="465.20" y1="126.60" x2="484.80" y2="126.60" stroke="#111" stroke-width="1.5"/>
<line x1="475.00" y1="119.20" x2="475.00" y2="131.80" stroke="#111" stroke-width="1.2"/>
<line x1="469.40" y1="119.20" x2="480.60" y2="119.20" stroke="#111" stroke-width="1.25"/>
<line x1="469.40" y1="131.80" x2="480.60" y2="131.80" stroke="#111" stroke-width="1.25"/>
<circle cx="47.70" cy="240.00" r="1.25" fill="#4e0a22"/>
<circle cx="44.00" cy="277.20" r="1.25" fill="#4e0a22"/>
<circle cx="51.60" cy="277.20" r="1.25" fill="#4e0a22"/>
<circle cx="47.70" cy="277.40" r="1.25" fill="#4e0a22"/>
<circle cx="47.70" cy="287.40" r="1.25" fill="#4e0a22"/>
<circle cx="44.00" cy="291.80" r="1.25" fill="#4e0a22"/>
<circle cx="47.70" cy="293.10" r="1.25" fill="#4e0a22"/>
<circle cx="51.60" cy="293.10" r="1.25" fill="#4e0a22"/>
<line x1="38.00" y1="280.40" x2="57.00" y2="280.40" stroke="#111" stroke-width="1.5"/>
<line x1="47.50" y1="275.50" x2="47.50" y2="285.40" stroke="#111" stroke-width="1.2"/>
<line x1="42.90" y1="275.50" x2="52.10" y2="275.50" stroke="#111" stroke-width="1.25"/>
<line x1="42.90" y1="285.40" x2="52.10" y2="285.40" stroke="#111" stroke-width="1.25"/>
<circle cx="71.80" cy="287.80" r="1.25" fill="#15244a"/>
<circle cx="75.90" cy="289.20" r="1.25" fill="#15244a"/>
<circle cx="79.60" cy="290.20" r="1.25" fill="#15244a"/>
<circle cx="67.90" cy="291.40" r="1.25" fill="#15244a"/>
<circle cx="71.80" cy="293.10" r="1.25" fill="#15244a"/>
<circle cx="75.90" cy="293.10" r="1.25" fill="#15244a"/>
<circle cx="69.00" cy="295.10" r="1.25" fill="#15244a"/>
<circle cx="79.60" cy="295.10" r="1.25" fill="#15244a"/>
<circle cx="73.50" cy="295.50" r="1.25" fill="#15244a"/>
<circle cx="77.00" cy="296.00" r="1.25" fill="#15244a"/>
<circle cx="67.00" cy="297.50" r="1.25" fill="#15244a"/>
<circle cx="71.00" cy="298.00" r="1.25" fill="#15244a"/>
<circle cx="75.00" cy="298.00" r="1.25" fill="#15244a"/>
<circle cx="79.00" cy="297.80" r="1.25" fill="#15244a"/>
<circle cx="73.40" cy="301.30" r="1.25" fill="#15244a"/>
<circle cx="71.80" cy="302.90" r="1.25" fill="#15244a"/>
<circle cx="75.90" cy="305.30" r="1.25" fill="#15244a"/>
<circle cx="74.10" cy="317.40" r="1.25" fill="#15244a"/>
<line x1="64.80" y1="297.20" x2="83.60" y2="297.20" stroke="#111" stroke-width="1.5"/>
<line x1="74.20" y1="295.20" x2="74.20" y2="299.20" stroke="#111" stroke-width="1.2"/>
<line x1="69.90" y1="295.20" x2="78.50" y2="295.20" stroke="#111" stroke-width="1.25"/>
<line x1="69.90" y1="299.20" x2="78.50" y2="299.20" stroke="#111" stroke-width="1.25"/>
<rect x="98.66" y="274.66" width="2.28" height="2.28" fill="#4e0a22"/>
<rect x="93.46" y="278.66" width="2.28" height="2.28" fill="#4e0a22"/>
<rect x="96.26" y="279.86" width="2.28" height="2.28" fill="#4e0a22"/>
<rect x="98.96" y="279.86" width="2.28" height="2.28" fill="#4e0a22"/>
<rect x="101.76" y="279.86" width="2.28" height="2.28" fill="#4e0a22"/>
<rect x="104.96" y="278.96" width="2.28" height="2.28" fill="#4e0a22"/>
<rect x="95.06" y="283.46" width="2.28" height="2.28" fill="#4e0a22"/>
<rect x="103.06" y="283.66" width="2.28" height="2.28" fill="#4e0a22"/>
<rect x="96.26" y="285.16" width="2.28" height="2.28" fill="#4e0a22"/>
<rect x="99.86" y="285.46" width="2.28" height="2.28" fill="#4e0a22"/>
<rect x="102.66" y="285.16" width="2.28" height="2.28" fill="#4e0a22"/>
<rect x="95.96" y="287.56" width="2.28" height="2.28" fill="#4e0a22"/>
<rect x="99.26" y="287.86" width="2.28" height="2.28" fill="#4e0a22"/>
<rect x="100.86" y="289.46" width="2.28" height="2.28" fill="#4e0a22"/>
<rect x="96.86" y="291.86" width="2.28" height="2.28" fill="#4e0a22"/>
<rect x="99.86" y="292.16" width="2.28" height="2.28" fill="#4e0a22"/>
<rect x="95.26" y="294.06" width="2.28" height="2.28" fill="#4e0a22"/>
<rect x="98.06" y="294.36" width="2.28" height="2.28" fill="#4e0a22"/>
<rect x="100.86" y="294.06" width="2.28" height="2.28" fill="#4e0a22"/>
<rect x="103.56" y="293.66" width="2.28" height="2.28" fill="#4e0a22"/>
<rect x="95.56" y="295.46" width="2.28" height="2.28" fill="#4e0a22"/>
<rect x="98.96" y="295.46" width="2.28" height="2.28" fill="#4e0a22"/>
<rect x="102.36" y="295.46" width="2.28" height="2.28" fill="#4e0a22"/>
<line x1="91.40" y1="287.80" x2="109.60" y2="287.80" stroke="#111" stroke-width="1.5"/>
<line x1="100.50" y1="285.00" x2="100.50" y2="289.60" stroke="#111" stroke-width="1.2"/>
<line x1="95.70" y1="285.00" x2="105.30" y2="285.00" stroke="#111" stroke-width="1.25"/>
<line x1="95.70" y1="289.60" x2="105.30" y2="289.60" stroke="#111" stroke-width="1.25"/>
<rect x="126.16" y="274.86" width="2.28" height="2.28" fill="#15244a"/>
<rect x="127.76" y="289.26" width="2.28" height="2.28" fill="#15244a"/>
<rect x="124.06" y="290.56" width="2.28" height="2.28" fill="#15244a"/>
<rect x="122.26" y="292.76" width="2.28" height="2.28" fill="#15244a"/>
<rect x="129.86" y="292.76" width="2.28" height="2.28" fill="#15244a"/>
<rect x="125.86" y="293.06" width="2.28" height="2.28" fill="#15244a"/>
<rect x="121.56" y="295.86" width="2.28" height="2.28" fill="#15244a"/>
<rect x="130.86" y="295.86" width="2.28" height="2.28" fill="#15244a"/>
<rect x="124.06" y="298.26" width="2.28" height="2.28" fill="#15244a"/>
<rect x="128.36" y="298.26" width="2.28" height="2.28" fill="#15244a"/>
<rect x="125.56" y="302.86" width="2.28" height="2.28" fill="#15244a"/>
<rect x="122.26" y="306.56" width="2.28" height="2.28" fill="#15244a"/>
<rect x="125.86" y="307.46" width="2.28" height="2.28" fill="#15244a"/>
<rect x="129.56" y="307.46" width="2.28" height="2.28" fill="#15244a"/>
<line x1="117.80" y1="297.60" x2="136.00" y2="297.60" stroke="#111" stroke-width="1.5"/>
<line x1="126.90" y1="295.50" x2="126.90" y2="299.70" stroke="#111" stroke-width="1.2"/>
<line x1="122.60" y1="295.50" x2="131.20" y2="295.50" stroke="#111" stroke-width="1.25"/>
<line x1="122.60" y1="299.70" x2="131.20" y2="299.70" stroke="#111" stroke-width="1.25"/>
<circle cx="215.00" cy="274.20" r="1.25" fill="#4e0a22"/>
<circle cx="218.70" cy="277.60" r="1.25" fill="#4e0a22"/>
<circle cx="213.20" cy="291.40" r="1.25" fill="#4e0a22"/>
<circle cx="216.50" cy="291.10" r="1.25" fill="#4e0a22"/>
<circle cx="220.50" cy="291.40" r="1.25" fill="#4e0a22"/>
<circle cx="212.60" cy="292.30" r="1.25" fill="#4e0a22"/>
<circle cx="218.70" cy="294.50" r="1.25" fill="#4e0a22"/>
<circle cx="215.00" cy="296.30" r="1.25" fill="#4e0a22"/>
<circle cx="216.50" cy="285.80" r="1.25" fill="#4e0a22"/>
<line x1="207.30" y1="288.00" x2="225.70" y2="288.00" stroke="#111" stroke-width="1.5"/>
<line x1="216.50" y1="285.60" x2="216.50" y2="290.50" stroke="#111" stroke-width="1.2"/>
<line x1="211.80" y1="285.60" x2="221.20" y2="285.60" stroke="#111" stroke-width="1.25"/>
<line x1="211.80" y1="290.50" x2="221.20" y2="290.50" stroke="#111" stroke-width="1.25"/>
<circle cx="243.20" cy="277.60" r="1.25" fill="#15244a"/>
<circle cx="243.20" cy="285.20" r="1.25" fill="#15244a"/>
<circle cx="243.20" cy="289.70" r="1.25" fill="#15244a"/>
<circle cx="241.80" cy="293.70" r="1.25" fill="#15244a"/>
<circle cx="245.10" cy="294.80" r="1.25" fill="#15244a"/>
<circle cx="237.30" cy="304.30" r="1.25" fill="#15244a"/>
<circle cx="240.10" cy="306.60" r="1.25" fill="#15244a"/>
<circle cx="242.30" cy="306.00" r="1.25" fill="#15244a"/>
<circle cx="245.10" cy="306.60" r="1.25" fill="#15244a"/>
<circle cx="248.50" cy="306.30" r="1.25" fill="#15244a"/>
<circle cx="239.00" cy="308.30" r="1.25" fill="#15244a"/>
<circle cx="242.90" cy="310.50" r="1.25" fill="#15244a"/>
<circle cx="246.30" cy="310.50" r="1.25" fill="#15244a"/>
<line x1="234.10" y1="298.70" x2="251.90" y2="298.70" stroke="#111" stroke-width="1.5"/>
<line x1="243.00" y1="295.60" x2="243.00" y2="301.50" stroke="#111" stroke-width="1.2"/>
<line x1="238.80" y1="295.60" x2="247.20" y2="295.60" stroke="#111" stroke-width="1.25"/>
<line x1="238.80" y1="301.50" x2="247.20" y2="301.50" stroke="#111" stroke-width="1.25"/>
<rect x="268.16" y="239.76" width="2.28" height="2.28" fill="#4e0a22"/>
<rect x="266.26" y="274.86" width="2.28" height="2.28" fill="#4e0a22"/>
<rect x="269.96" y="272.76" width="2.28" height="2.28" fill="#4e0a22"/>
<rect x="266.26" y="282.96" width="2.28" height="2.28" fill="#4e0a22"/>
<rect x="269.16" y="284.26" width="2.28" height="2.28" fill="#4e0a22"/>
<rect x="263.16" y="285.76" width="2.28" height="2.28" fill="#4e0a22"/>
<rect x="271.96" y="285.26" width="2.28" height="2.28" fill="#4e0a22"/>
<rect x="262.46" y="290.36" width="2.28" height="2.28" fill="#4e0a22"/>
<rect x="265.56" y="290.36" width="2.28" height="2.28" fill="#4e0a22"/>
<rect x="269.16" y="290.86" width="2.28" height="2.28" fill="#4e0a22"/>
<rect x="271.96" y="290.36" width="2.28" height="2.28" fill="#4e0a22"/>
<rect x="269.16" y="293.66" width="2.28" height="2.28" fill="#4e0a22"/>
<rect x="268.06" y="301.36" width="2.28" height="2.28" fill="#4e0a22"/>
<rect x="266.06" y="304.46" width="2.28" height="2.28" fill="#4e0a22"/>
<rect x="269.96" y="305.46" width="2.28" height="2.28" fill="#4e0a22"/>
<rect x="268.26" y="313.06" width="2.28" height="2.28" fill="#4e0a22"/>
<line x1="260.00" y1="289.50" x2="278.40" y2="289.50" stroke="#111" stroke-width="1.5"/>
<line x1="269.20" y1="286.80" x2="269.20" y2="292.20" stroke="#111" stroke-width="1.2"/>
<line x1="264.80" y1="286.80" x2="273.60" y2="286.80" stroke="#111" stroke-width="1.25"/>
<line x1="264.80" y1="292.20" x2="273.60" y2="292.20" stroke="#111" stroke-width="1.25"/>
<rect x="294.26" y="259.56" width="2.28" height="2.28" fill="#15244a"/>
<rect x="294.06" y="285.26" width="2.28" height="2.28" fill="#15244a"/>
<rect x="290.06" y="293.16" width="2.28" height="2.28" fill="#15244a"/>
<rect x="294.06" y="292.66" width="2.28" height="2.28" fill="#15244a"/>
<rect x="298.06" y="293.16" width="2.28" height="2.28" fill="#15244a"/>
<rect x="290.26" y="300.96" width="2.28" height="2.28" fill="#15244a"/>
<rect x="293.46" y="300.96" width="2.28" height="2.28" fill="#15244a"/>
<rect x="297.56" y="300.96" width="2.28" height="2.28" fill="#15244a"/>
<rect x="292.06" y="305.56" width="2.28" height="2.28" fill="#15244a"/>
<rect x="296.46" y="305.56" width="2.28" height="2.28" fill="#15244a"/>
<rect x="292.06" y="307.36" width="2.28" height="2.28" fill="#15244a"/>
<rect x="296.46" y="310.56" width="2.28" height="2.28" fill="#15244a"/>
<rect x="296.46" y="314.76" width="2.28" height="2.28" fill="#15244a"/>
<rect x="291.86" y="318.26" width="2.28" height="2.28" fill="#15244a"/>
<line x1="286.10" y1="300.00" x2="304.50" y2="300.00" stroke="#111" stroke-width="1.5"/>
<line x1="295.30" y1="294.70" x2="295.30" y2="302.60" stroke="#111" stroke-width="1.2"/>
<line x1="291.00" y1="294.70" x2="299.60" y2="294.70" stroke="#111" stroke-width="1.25"/>
<line x1="291.00" y1="302.60" x2="299.60" y2="302.60" stroke="#111" stroke-width="1.25"/>
<circle cx="389.90" cy="242.70" r="1.25" fill="#4e0a22"/>
<circle cx="389.90" cy="248.90" r="1.25" fill="#4e0a22"/>
<circle cx="389.90" cy="254.70" r="1.25" fill="#4e0a22"/>
<circle cx="389.90" cy="260.10" r="1.25" fill="#4e0a22"/>
<circle cx="388.60" cy="293.00" r="1.25" fill="#4e0a22"/>
<circle cx="386.60" cy="308.10" r="1.25" fill="#4e0a22"/>
<circle cx="389.90" cy="306.20" r="1.25" fill="#4e0a22"/>
<circle cx="393.40" cy="308.10" r="1.25" fill="#4e0a22"/>
<circle cx="385.70" cy="310.00" r="1.25" fill="#4e0a22"/>
<circle cx="389.90" cy="312.40" r="1.25" fill="#4e0a22"/>
<circle cx="389.90" cy="325.00" r="1.25" fill="#4e0a22"/>
<line x1="380.80" y1="288.40" x2="399.20" y2="288.40" stroke="#111" stroke-width="1.5"/>
<line x1="390.00" y1="281.00" x2="390.00" y2="296.50" stroke="#111" stroke-width="1.2"/>
<line x1="385.60" y1="281.00" x2="394.40" y2="281.00" stroke="#111" stroke-width="1.25"/>
<line x1="385.60" y1="296.50" x2="394.40" y2="296.50" stroke="#111" stroke-width="1.25"/>
<path d="M415.70 266.07L417.13 267.50L415.70 268.93L414.27 267.50Z" fill="#15244a"/>
<path d="M415.70 291.17L417.13 292.60L415.70 294.03L414.27 292.60Z" fill="#15244a"/>
<path d="M412.80 296.97L414.23 298.40L412.80 299.83L411.37 298.40Z" fill="#15244a"/>
<path d="M416.60 295.87L418.03 297.30L416.60 298.73L415.17 297.30Z" fill="#15244a"/>
<path d="M414.70 306.67L416.13 308.10L414.70 309.53L413.27 308.10Z" fill="#15244a"/>
<path d="M409.80 322.57L411.23 324.00L409.80 325.43L408.37 324.00Z" fill="#15244a"/>
<path d="M413.70 324.87L415.13 326.30L413.70 327.73L412.27 326.30Z" fill="#15244a"/>
<path d="M417.60 324.87L419.03 326.30L417.60 327.73L416.17 326.30Z" fill="#15244a"/>
<path d="M421.50 322.57L422.93 324.00L421.50 325.43L420.07 324.00Z" fill="#15244a"/>
<line x1="406.90" y1="307.00" x2="424.70" y2="307.00" stroke="#111" stroke-width="1.5"/>
<line x1="415.80" y1="301.70" x2="415.80" y2="311.40" stroke="#111" stroke-width="1.2"/>
<line x1="411.60" y1="301.70" x2="420.00" y2="301.70" stroke="#111" stroke-width="1.25"/>
<line x1="411.60" y1="311.40" x2="420.00" y2="311.40" stroke="#111" stroke-width="1.25"/>
<rect x="438.96" y="263.86" width="2.28" height="2.28" fill="#4e0a22"/>
<rect x="442.76" y="261.36" width="2.28" height="2.28" fill="#4e0a22"/>
<rect x="438.96" y="286.06" width="2.28" height="2.28" fill="#4e0a22"/>
<rect x="442.76" y="288.36" width="2.28" height="2.28" fill="#4e0a22"/>
<rect x="434.66" y="297.66" width="2.28" height="2.28" fill="#4e0a22"/>
<rect x="438.16" y="299.26" width="2.28" height="2.28" fill="#4e0a22"/>
<rect x="441.46" y="299.26" width="2.28" height="2.28" fill="#4e0a22"/>
<rect x="445.26" y="297.66" width="2.28" height="2.28" fill="#4e0a22"/>
<rect x="439.46" y="295.76" width="2.28" height="2.28" fill="#4e0a22"/>
<rect x="434.66" y="314.16" width="2.28" height="2.28" fill="#4e0a22"/>
<rect x="438.16" y="315.06" width="2.28" height="2.28" fill="#4e0a22"/>
<rect x="442.06" y="314.76" width="2.28" height="2.28" fill="#4e0a22"/>
<rect x="445.86" y="313.56" width="2.28" height="2.28" fill="#4e0a22"/>
<line x1="432.90" y1="297.30" x2="450.90" y2="297.30" stroke="#111" stroke-width="1.5"/>
<line x1="441.90" y1="292.60" x2="441.90" y2="301.00" stroke="#111" stroke-width="1.2"/>
<line x1="437.50" y1="292.60" x2="446.30" y2="292.60" stroke="#111" stroke-width="1.25"/>
<line x1="437.50" y1="301.00" x2="446.30" y2="301.00" stroke="#111" stroke-width="1.25"/>
<rect x="466.56" y="269.66" width="2.28" height="2.28" fill="#15244a"/>
<rect x="466.56" y="303.86" width="2.28" height="2.28" fill="#15244a"/>
<rect x="465.26" y="315.06" width="2.28" height="2.28" fill="#15244a"/>
<rect x="469.46" y="317.46" width="2.28" height="2.28" fill="#15244a"/>
<rect x="463.26" y="318.96" width="2.28" height="2.28" fill="#15244a"/>
<rect x="467.56" y="320.86" width="2.28" height="2.28" fill="#15244a"/>
<rect x="463.26" y="324.76" width="2.28" height="2.28" fill="#15244a"/>
<rect x="467.16" y="326.36" width="2.28" height="2.28" fill="#15244a"/>
<rect x="470.46" y="326.36" width="2.28" height="2.28" fill="#15244a"/>
<line x1="459.00" y1="314.30" x2="476.40" y2="314.30" stroke="#111" stroke-width="1.5"/>
<line x1="467.70" y1="309.50" x2="467.70" y2="319.00" stroke="#111" stroke-width="1.2"/>
<line x1="463.50" y1="309.50" x2="471.90" y2="309.50" stroke="#111" stroke-width="1.25"/>
<line x1="463.50" y1="319.00" x2="471.90" y2="319.00" stroke="#111" stroke-width="1.25"/>
<path d="M143.00 386.83L144.37 388.20L143.00 389.56L141.63 388.20Z" fill="#560c26"/>
<path d="M143.00 392.53L144.37 393.90L143.00 395.26L141.63 393.90Z" fill="#560c26"/>
<path d="M140.70 397.94L142.06 399.30L140.70 400.67L139.33 399.30Z" fill="#560c26"/>
<path d="M145.10 397.94L146.47 399.30L145.10 400.67L143.73 399.30Z" fill="#560c26"/>
<path d="M139.10 405.53L140.47 406.90L139.10 408.26L137.73 406.90Z" fill="#560c26"/>
<path d="M147.30 403.94L148.67 405.30L147.30 406.67L145.94 405.30Z" fill="#560c26"/>
<path d="M142.70 422.44L144.06 423.80L142.70 425.17L141.33 423.80Z" fill="#560c26"/>
<path d="M141.10 446.44L142.47 447.80L141.10 449.17L139.73 447.80Z" fill="#560c26"/>
<path d="M144.80 443.94L146.17 445.30L144.80 446.67L143.44 445.30Z" fill="#560c26"/>
<line x1="131.30" y1="411.30" x2="154.90" y2="411.30" stroke="#111" stroke-width="1.5"/>
<line x1="143.10" y1="406.10" x2="143.10" y2="417.90" stroke="#111" stroke-width="1.2"/>
<line x1="138.20" y1="406.10" x2="148.00" y2="406.10" stroke="#111" stroke-width="1.25"/>
<line x1="138.20" y1="417.90" x2="148.00" y2="417.90" stroke="#111" stroke-width="1.25"/>
<path d="M176.50 396.57L177.93 398.00L176.50 399.43L175.07 398.00Z" fill="#15244a"/>
<path d="M180.70 405.77L182.13 407.20L180.70 408.63L179.27 407.20Z" fill="#15244a"/>
<path d="M171.00 408.87L172.43 410.30L171.00 411.73L169.57 410.30Z" fill="#15244a"/>
<path d="M175.30 408.07L176.73 409.50L175.30 410.93L173.87 409.50Z" fill="#15244a"/>
<path d="M179.90 408.37L181.33 409.80L179.90 411.23L178.47 409.80Z" fill="#15244a"/>
<path d="M168.40 411.17L169.83 412.60L168.40 414.03L166.97 412.60Z" fill="#15244a"/>
<path d="M173.50 411.17L174.93 412.60L173.50 414.03L172.07 412.60Z" fill="#15244a"/>
<path d="M178.40 411.17L179.83 412.60L178.40 414.03L176.97 412.60Z" fill="#15244a"/>
<path d="M183.70 411.17L185.13 412.60L183.70 414.03L182.27 412.60Z" fill="#15244a"/>
<path d="M172.30 416.47L173.73 417.90L172.30 419.33L170.87 417.90Z" fill="#15244a"/>
<path d="M178.40 416.47L179.83 417.90L178.40 419.33L176.97 417.90Z" fill="#15244a"/>
<path d="M183.00 418.07L184.43 419.50L183.00 420.93L181.57 419.50Z" fill="#15244a"/>
<path d="M178.40 419.57L179.83 421.00L178.40 422.43L176.97 421.00Z" fill="#15244a"/>
<path d="M175.30 418.47L176.73 419.90L175.30 421.33L173.87 419.90Z" fill="#15244a"/>
<path d="M174.50 424.57L175.93 426.00L174.50 427.43L173.07 426.00Z" fill="#15244a"/>
<path d="M178.70 423.67L180.13 425.10L178.70 426.53L177.27 425.10Z" fill="#15244a"/>
<path d="M176.50 432.87L177.93 434.30L176.50 435.73L175.07 434.30Z" fill="#15244a"/>
<path d="M176.50 440.97L177.93 442.40L176.50 443.83L175.07 442.40Z" fill="#15244a"/>
<line x1="164.90" y1="416.90" x2="187.90" y2="416.90" stroke="#111" stroke-width="1.5"/>
<line x1="176.40" y1="415.00" x2="176.40" y2="418.60" stroke="#111" stroke-width="1.2"/>
<line x1="172.00" y1="415.00" x2="180.80" y2="415.00" stroke="#111" stroke-width="1.25"/>
<line x1="172.00" y1="418.60" x2="180.80" y2="418.60" stroke="#111" stroke-width="1.25"/>
<rect x="208.86" y="395.26" width="2.47" height="2.47" fill="#a8781e"/>
<rect x="208.86" y="403.37" width="2.47" height="2.47" fill="#a8781e"/>
<rect x="204.86" y="406.46" width="2.47" height="2.47" fill="#a8781e"/>
<rect x="213.46" y="406.46" width="2.47" height="2.47" fill="#a8781e"/>
<rect x="208.86" y="409.06" width="2.47" height="2.47" fill="#a8781e"/>
<rect x="204.26" y="412.26" width="2.47" height="2.47" fill="#a8781e"/>
<rect x="213.46" y="410.76" width="2.47" height="2.47" fill="#a8781e"/>
<rect x="202.66" y="418.26" width="2.47" height="2.47" fill="#a8781e"/>
<rect x="206.06" y="418.26" width="2.47" height="2.47" fill="#a8781e"/>
<rect x="210.66" y="418.26" width="2.47" height="2.47" fill="#a8781e"/>
<rect x="215.26" y="417.76" width="2.47" height="2.47" fill="#a8781e"/>
<rect x="206.06" y="422.06" width="2.47" height="2.47" fill="#a8781e"/>
<rect x="209.16" y="427.87" width="2.47" height="2.47" fill="#a8781e"/>
<rect x="209.16" y="440.16" width="2.47" height="2.47" fill="#a8781e"/>
<line x1="198.40" y1="416.90" x2="220.80" y2="416.90" stroke="#111" stroke-width="1.5"/>
<line x1="209.60" y1="413.80" x2="209.60" y2="419.60" stroke="#111" stroke-width="1.2"/>
<line x1="204.00" y1="413.80" x2="215.20" y2="413.80" stroke="#111" stroke-width="1.25"/>
<line x1="204.00" y1="419.60" x2="215.20" y2="419.60" stroke="#111" stroke-width="1.25"/>
<path d="M285.00 394.44L286.37 395.80L285.00 397.17L283.63 395.80Z" fill="#560c26"/>
<path d="M278.70 399.44L280.06 400.80L278.70 402.17L277.33 400.80Z" fill="#560c26"/>
<path d="M289.20 398.24L290.56 399.60L289.20 400.97L287.83 399.60Z" fill="#560c26"/>
<path d="M295.00 400.13L296.37 401.50L295.00 402.87L293.63 401.50Z" fill="#560c26"/>
<path d="M282.50 401.74L283.87 403.10L282.50 404.47L281.13 403.10Z" fill="#560c26"/>
<path d="M285.40 401.33L286.76 402.70L285.40 404.06L284.03 402.70Z" fill="#560c26"/>
<path d="M284.40 404.63L285.76 406.00L284.40 407.37L283.03 406.00Z" fill="#560c26"/>
<path d="M288.30 405.53L289.67 406.90L288.30 408.26L286.94 406.90Z" fill="#560c26"/>
<path d="M288.80 407.13L290.17 408.50L288.80 409.87L287.44 408.50Z" fill="#560c26"/>
<path d="M286.90 419.44L288.26 420.80L286.90 422.17L285.53 420.80Z" fill="#560c26"/>
<line x1="275.40" y1="404.40" x2="298.80" y2="404.40" stroke="#111" stroke-width="1.5"/>
<line x1="287.10" y1="402.00" x2="287.10" y2="406.80" stroke="#111" stroke-width="1.2"/>
<line x1="282.70" y1="402.00" x2="291.50" y2="402.00" stroke="#111" stroke-width="1.25"/>
<line x1="282.70" y1="406.80" x2="291.50" y2="406.80" stroke="#111" stroke-width="1.25"/>
<path d="M321.00 398.77L322.43 400.20L321.00 401.63L319.57 400.20Z" fill="#15244a"/>
<path d="M316.20 404.57L317.63 406.00L316.20 407.43L314.77 406.00Z" fill="#15244a"/>
<path d="M320.40 405.47L321.83 406.90L320.40 408.33L318.97 406.90Z" fill="#15244a"/>
<path d="M324.80 405.47L326.23 406.90L324.80 408.33L323.37 406.90Z" fill="#15244a"/>
<path d="M327.70 404.57L329.13 406.00L327.70 407.43L326.27 406.00Z" fill="#15244a"/>
<path d="M315.20 408.97L316.63 410.40L315.20 411.83L313.77 410.40Z" fill="#15244a"/>
<path d="M320.40 408.97L321.83 410.40L320.40 411.83L318.97 410.40Z" fill="#15244a"/>
<path d="M324.80 408.97L326.23 410.40L324.80 411.83L323.37 410.40Z" fill="#15244a"/>
<path d="M313.30 411.67L314.73 413.10L313.30 414.53L311.87 413.10Z" fill="#15244a"/>
<path d="M317.70 411.67L319.13 413.10L317.70 414.53L316.27 413.10Z" fill="#15244a"/>
<path d="M322.30 411.67L323.73 413.10L322.30 414.53L320.87 413.10Z" fill="#15244a"/>
<path d="M326.70 411.67L328.13 413.10L326.70 414.53L325.27 413.10Z" fill="#15244a"/>
<path d="M329.60 411.27L331.03 412.70L329.60 414.13L328.17 412.70Z" fill="#15244a"/>
<path d="M315.20 417.07L316.63 418.50L315.20 419.93L313.77 418.50Z" fill="#15244a"/>
<path d="M320.40 417.07L321.83 418.50L320.40 419.93L318.97 418.50Z" fill="#15244a"/>
<path d="M325.80 417.07L327.23 418.50L325.80 419.93L324.37 418.50Z" fill="#15244a"/>
<path d="M316.20 419.87L317.63 421.30L316.20 422.73L314.77 421.30Z" fill="#15244a"/>
<path d="M324.80 419.87L326.23 421.30L324.80 422.73L323.37 421.30Z" fill="#15244a"/>
<path d="M315.20 421.27L316.63 422.70L315.20 424.13L313.77 422.70Z" fill="#15244a"/>
<path d="M319.00 422.77L320.43 424.20L319.00 425.63L317.57 424.20Z" fill="#15244a"/>
<path d="M327.70 422.37L329.13 423.80L327.70 425.23L326.27 423.80Z" fill="#15244a"/>
<path d="M323.50 424.77L324.93 426.20L323.50 427.63L322.07 426.20Z" fill="#15244a"/>
<path d="M321.00 452.57L322.43 454.00L321.00 455.43L319.57 454.00Z" fill="#15244a"/>
<line x1="309.40" y1="416.00" x2="333.00" y2="416.00" stroke="#111" stroke-width="1.5"/>
<line x1="321.20" y1="414.00" x2="321.20" y2="418.00" stroke="#111" stroke-width="1.2"/>
<line x1="316.80" y1="414.00" x2="325.60" y2="414.00" stroke="#111" stroke-width="1.25"/>
<line x1="316.80" y1="418.00" x2="325.60" y2="418.00" stroke="#111" stroke-width="1.25"/>
<rect x="354.96" y="396.66" width="2.47" height="2.47" fill="#a8781e"/>
<rect x="344.76" y="407.96" width="2.47" height="2.47" fill="#a8781e"/>
<rect x="348.56" y="409.56" width="2.47" height="2.47" fill="#a8781e"/>
<rect x="353.37" y="409.96" width="2.47" height="2.47" fill="#a8781e"/>
<rect x="357.26" y="409.56" width="2.47" height="2.47" fill="#a8781e"/>
<rect x="362.06" y="409.16" width="2.47" height="2.47" fill="#a8781e"/>
<rect x="365.87" y="408.56" width="2.47" height="2.47" fill="#a8781e"/>
<rect x="347.56" y="413.37" width="2.47" height="2.47" fill="#a8781e"/>
<rect x="353.37" y="412.96" width="2.47" height="2.47" fill="#a8781e"/>
<rect x="359.16" y="413.37" width="2.47" height="2.47" fill="#a8781e"/>
<rect x="362.96" y="417.26" width="2.47" height="2.47" fill="#a8781e"/>
<rect x="346.66" y="419.56" width="2.47" height="2.47" fill="#a8781e"/>
<rect x="350.46" y="420.06" width="2.47" height="2.47" fill="#a8781e"/>
<rect x="354.96" y="420.06" width="2.47" height="2.47" fill="#a8781e"/>
<rect x="359.16" y="419.56" width="2.47" height="2.47" fill="#a8781e"/>
<rect x="354.96" y="428.37" width="2.47" height="2.47" fill="#a8781e"/>
<line x1="344.00" y1="415.20" x2="367.60" y2="415.20" stroke="#111" stroke-width="1.5"/>
<line x1="355.80" y1="413.40" x2="355.80" y2="417.00" stroke="#111" stroke-width="1.2"/>
<line x1="351.40" y1="413.40" x2="360.20" y2="413.40" stroke="#111" stroke-width="1.25"/>
<line x1="351.40" y1="417.00" x2="360.20" y2="417.00" stroke="#111" stroke-width="1.25"/>
</svg></body></html>
